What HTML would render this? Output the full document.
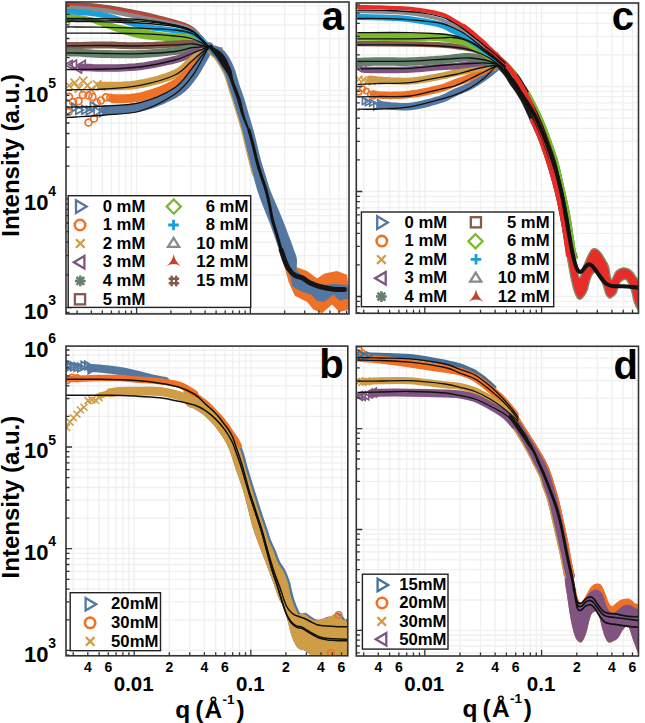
<!DOCTYPE html>
<html><head><meta charset="utf-8"><style>html,body{margin:0;padding:0;background:#fff;}svg{display:block}</style></head>
<body><svg width="645" height="723" viewBox="0 0 645 723">
<rect width="645" height="723" fill="#fff"/>
<path d="M77.1 2V313.9M91.3 2V313.9M102.3 2V313.9M111.4 2V313.9M119.0 2V313.9M125.6 2V313.9M131.4 2V313.9M136.6 2V313.9M170.9 2V313.9M190.9 2V313.9M205.1 2V313.9M216.1 2V313.9M225.2 2V313.9M232.8 2V313.9M239.4 2V313.9M245.2 2V313.9M250.4 2V313.9M284.7 2V313.9M304.7 2V313.9M318.9 2V313.9M329.9 2V313.9M339.0 2V313.9M346.6 2V313.9M66 312.5H349M66 307.5H349M66 274.8H349M66 255.7H349M66 242.1H349M66 231.6H349M66 223.0H349M66 215.7H349M66 209.4H349M66 203.9H349M66 198.9H349M66 166.2H349M66 147.1H349M66 133.5H349M66 123.0H349M66 114.4H349M66 107.1H349M66 100.8H349M66 95.3H349M66 90.3H349M66 57.6H349M66 38.5H349M66 24.9H349M66 14.4H349M66 5.8H349" stroke="#f0f0f0" stroke-width="1.3" fill="none"/>
<clipPath id="clipa"><rect x="66" y="2" width="283" height="311.9"/></clipPath>
<g clip-path="url(#clipa)">
<path d="M288.6 240.0 L296.7 267.3 L307.2 271.0 L317.1 278.5 L324.6 273.5 L337.0 271.0 L347.0 274.7 L349.0 290.0 L349.0 309.5 L339.5 312.0 L332.0 304.5 L322.1 313.2 L313.4 309.5 L307.2 302.0 L294.8 295.8 L288.6 282.0 L280.0 250.0 L276.0 238.0Z" fill="#ee7126"/>
<path d="M287.4 240.0 L296.0 270.0 L305.0 277.5 L320.0 285.0 L334.5 284.0 L344.4 284.7 L349.0 286.0 L349.0 298.3 L339.5 300.8 L333.3 294.6 L324.6 302.0 L317.1 300.8 L311.0 294.6 L302.3 292.1 L293.6 287.1 L289.9 274.7 L283.6 258.6 L278.0 240.0Z" fill="#5377a0"/>
<path d="M67.0 14.3 L67.9 14.3 L69.1 14.3 L70.6 14.2 L72.3 14.3 L74.1 14.3 L76.0 14.5 L78.0 14.8 L80.3 15.1 L82.6 15.5 L85.1 16.0 L87.6 16.5 L90.0 17.0 L92.4 17.6 L94.9 18.2 L97.4 18.9 L100.0 19.6 L102.5 20.3 L105.0 21.0 L107.4 21.7 L109.8 22.3 L112.2 23.0 L114.6 23.7 L117.2 24.4 L120.0 25.0 L123.0 25.6 L126.3 26.2 L129.7 26.8 L133.1 27.4 L136.6 28.0 L140.0 28.6 L143.4 29.2 L146.9 29.8 L150.3 30.4 L153.7 31.0 L157.0 31.6 L160.0 32.0 L162.8 32.3 L165.3 32.6 L167.6 32.7 L170.0 32.9 L172.4 33.1 L175.0 33.3 L177.8 33.5 L180.9 33.7 L183.9 33.9 L187.0 34.2 L190.1 34.7 L193.0 35.5 L196.0 36.8 L199.1 38.5 L202.1 40.4 L204.9 42.3 L207.3 43.9 L209.0 45.0 L209.0 48.0 L207.3 47.0 L204.9 45.6 L202.1 43.9 L199.1 42.3 L196.0 40.9 L193.0 40.0 L190.1 39.7 L187.0 39.8 L183.9 40.2 L180.9 40.7 L177.8 41.1 L175.0 41.3 L172.4 41.3 L170.0 41.2 L167.6 41.1 L165.3 40.9 L162.8 40.7 L160.0 40.5 L157.0 40.3 L153.7 40.1 L150.3 39.8 L146.9 39.5 L143.4 39.0 L140.0 38.5 L136.6 37.8 L133.1 36.9 L129.7 36.0 L126.3 35.0 L123.0 34.0 L120.0 33.0 L117.2 32.1 L114.6 31.2 L112.2 30.2 L109.8 29.3 L107.4 28.4 L105.0 27.5 L102.5 26.6 L100.0 25.6 L97.4 24.7 L94.9 23.7 L92.4 22.8 L90.0 22.0 L87.6 21.2 L85.1 20.4 L82.6 19.7 L80.3 19.0 L78.0 18.4 L76.0 18.0 L74.1 17.8 L72.3 17.7 L70.6 17.8 L69.1 17.9 L67.9 18.0 L67.0 18.0Z" fill="#7cb82e"/>
<path d="M69.0 14.0L73.5 18.5L69.0 23.0L64.5 18.5Z" fill="none" stroke="#7cb82e" stroke-width="1.8"/>
<path d="M67.0 3.5 L67.6 3.5 L68.1 3.5 L68.8 3.5 L69.7 3.5 L70.8 3.5 L72.1 3.5 L73.9 3.6 L76.0 3.8 L78.6 4.0 L81.7 4.2 L85.1 4.5 L88.9 4.8 L92.8 5.1 L96.9 5.5 L101.0 6.0 L105.0 6.5 L109.1 7.1 L113.3 7.8 L117.7 8.5 L122.1 9.3 L126.6 10.1 L131.1 11.0 L135.6 11.9 L140.0 12.8 L144.5 13.8 L149.1 14.8 L153.9 15.9 L158.6 17.1 L163.1 18.2 L167.4 19.4 L171.4 20.5 L175.0 21.5 L178.1 22.4 L180.7 23.2 L183.1 23.9 L185.2 24.7 L187.1 25.5 L189.0 26.4 L191.0 27.6 L193.0 29.0 L195.2 30.9 L197.5 33.2 L199.8 35.8 L202.1 38.5 L204.3 41.1 L206.2 43.5 L207.8 45.5 L209.0 47.0" stroke="#86594d" stroke-width="3.5" fill="none" stroke-linejoin="round" stroke-linecap="round" opacity="1"/>
<path d="M67.0 5.5 L67.6 5.5 L68.1 5.5 L68.8 5.5 L69.7 5.5 L70.8 5.5 L72.1 5.6 L73.9 5.7 L76.0 5.8 L78.6 6.0 L81.7 6.1 L85.1 6.3 L88.9 6.5 L92.8 6.8 L96.9 7.1 L101.0 7.5 L105.0 8.0 L109.1 8.6 L113.3 9.2 L117.7 9.9 L122.1 10.7 L126.6 11.5 L131.1 12.4 L135.6 13.3 L140.0 14.2 L144.5 15.1 L149.1 16.1 L153.9 17.2 L158.6 18.3 L163.1 19.4 L167.4 20.4 L171.4 21.5 L175.0 22.5 L178.1 23.4 L180.7 24.2 L183.1 25.0 L185.2 25.7 L187.1 26.5 L189.0 27.5 L191.0 28.6 L193.0 30.0 L195.2 31.8 L197.5 34.0 L199.8 36.4 L202.1 39.0 L204.3 41.5 L206.2 43.7 L207.8 45.6 L209.0 47.0" stroke="#c8402e" stroke-width="3.5" fill="none" stroke-linejoin="round" stroke-linecap="round" opacity="1"/>
<path d="M67.0 7.8 L67.6 7.8 L68.1 7.8 L68.8 7.8 L69.7 7.7 L70.8 7.7 L72.1 7.8 L73.9 7.9 L76.0 8.0 L78.6 8.2 L81.7 8.4 L85.1 8.6 L88.9 8.8 L92.8 9.2 L96.9 9.5 L101.0 10.0 L105.0 10.5 L109.1 11.1 L113.3 11.9 L117.7 12.7 L122.1 13.6 L126.6 14.5 L131.1 15.4 L135.6 16.3 L140.0 17.2 L144.5 18.1 L149.1 19.0 L153.9 19.9 L158.6 20.9 L163.1 21.8 L167.4 22.7 L171.4 23.6 L175.0 24.5 L178.1 25.3 L180.7 26.0 L183.1 26.6 L185.2 27.2 L187.1 27.9 L189.0 28.7 L191.0 29.7 L193.0 31.0 L195.2 32.7 L197.5 34.7 L199.8 37.0 L202.1 39.4 L204.3 41.8 L206.2 43.9 L207.8 45.7 L209.0 47.0" stroke="#8a8a8a" stroke-width="4.5" fill="none" stroke-linejoin="round" stroke-linecap="round" opacity="1"/>
<path d="M67.0 12.0 L67.6 12.0 L68.1 11.9 L68.8 11.8 L69.7 11.8 L70.8 11.7 L72.1 11.8 L73.9 11.8 L76.0 12.0 L78.6 12.2 L81.7 12.5 L85.1 12.8 L88.9 13.1 L92.8 13.5 L96.9 14.1 L101.0 14.7 L105.0 15.5 L109.1 16.5 L113.3 17.7 L117.7 19.1 L122.1 20.5 L126.6 22.0 L131.1 23.4 L135.6 24.6 L140.0 25.7 L144.5 26.6 L149.1 27.3 L153.9 28.0 L158.6 28.6 L163.1 29.1 L167.4 29.6 L171.4 30.0 L175.0 30.5 L178.1 30.9 L180.7 31.1 L183.1 31.2 L185.2 31.3 L187.1 31.5 L189.0 31.9 L191.0 32.4 L193.0 33.3 L195.2 34.6 L197.5 36.3 L199.8 38.2 L202.1 40.3 L204.3 42.4 L206.2 44.3 L207.8 45.9 L209.0 47.0" stroke="#18a0dc" stroke-width="5.5" fill="none" stroke-linejoin="round" stroke-linecap="round" opacity="1"/>
<path d="M67.0 45.5 L67.6 45.5 L68.1 45.5 L68.8 45.5 L69.7 45.5 L70.8 45.5 L72.1 45.5 L73.9 45.5 L76.0 45.5 L78.6 45.5 L81.7 45.4 L85.1 45.3 L88.9 45.2 L92.8 45.1 L96.9 45.1 L101.0 45.0 L105.0 45.0 L109.1 45.0 L113.3 45.1 L117.7 45.3 L122.1 45.4 L126.6 45.6 L131.1 45.7 L135.6 45.7 L140.0 45.7 L144.5 45.6 L149.1 45.4 L153.9 45.2 L158.6 44.9 L163.1 44.7 L167.4 44.4 L171.4 44.2 L175.0 44.0 L178.1 43.9 L180.7 43.7 L183.1 43.5 L185.2 43.4 L187.1 43.3 L189.0 43.3 L191.0 43.4 L193.0 43.5 L195.2 43.8 L197.5 44.2 L199.8 44.7 L202.1 45.2 L204.3 45.8 L206.2 46.3 L207.8 46.7 L209.0 47.0" stroke="#835a4b" stroke-width="7" fill="none" stroke-linejoin="round" stroke-linecap="round" opacity="1"/>
<path d="M67.0 52.5 L67.6 52.5 L68.1 52.5 L68.8 52.4 L69.7 52.4 L70.8 52.4 L72.1 52.4 L73.9 52.4 L76.0 52.5 L78.6 52.6 L81.7 52.8 L85.1 53.0 L88.9 53.2 L92.8 53.5 L96.9 53.7 L101.0 53.9 L105.0 54.0 L109.1 54.1 L113.3 54.2 L117.7 54.2 L122.1 54.3 L126.6 54.3 L131.1 54.2 L135.6 54.2 L140.0 54.0 L144.5 53.8 L149.1 53.5 L153.9 53.1 L158.6 52.7 L163.1 52.3 L167.4 51.9 L171.4 51.4 L175.0 51.0 L178.1 50.6 L180.7 50.1 L183.1 49.6 L185.2 49.1 L187.1 48.6 L189.0 48.2 L191.0 47.8 L193.0 47.5 L195.2 47.3 L197.5 47.2 L199.8 47.1 L202.1 47.0 L204.3 47.0 L206.2 47.0 L207.8 47.0 L209.0 47.0" stroke="#65806a" stroke-width="8" fill="none" stroke-linejoin="round" stroke-linecap="round" opacity="1"/>
<path d="M81.7 67.2 L85.1 67.4 L88.9 67.6 L92.8 67.8 L96.9 67.9 L101.0 68.0 L105.0 68.0 L109.1 68.0 L113.3 67.9 L117.7 67.9 L122.1 67.7 L126.6 67.6 L131.1 67.3 L135.6 67.0 L140.0 66.5 L144.5 65.9 L149.1 65.1 L153.9 64.3 L158.6 63.4 L163.1 62.4 L167.4 61.4 L171.4 60.5 L175.0 59.6 L178.1 58.8 L180.7 57.9 L183.1 57.1 L185.2 56.2 L187.1 55.4 L189.0 54.6 L191.0 53.8 L193.0 53.0 L195.2 52.2 L197.5 51.3 L199.8 50.4 L202.1 49.6 L204.3 48.8 L206.2 48.1 L207.8 47.5 L209.0 47.0" stroke="#7f5480" stroke-width="7.5" fill="none" stroke-linejoin="round" stroke-linecap="round" opacity="1"/>
<path d="M72.2 60.4L64.8 64.6L72.2 68.9Z" fill="none" stroke="#7f5480" stroke-width="1.7" stroke-linejoin="miter"/>
<path d="M76.4 60.2L69.0 64.5L76.4 68.7Z" fill="none" stroke="#7f5480" stroke-width="1.7" stroke-linejoin="miter"/>
<path d="M81.5 64.4L74.1 68.6L81.5 72.9Z" fill="none" stroke="#7f5480" stroke-width="1.7" stroke-linejoin="miter"/>
<path d="M85.3 60.5L77.8 64.8L85.3 69.0Z" fill="none" stroke="#7f5480" stroke-width="1.7" stroke-linejoin="miter"/>
<path d="M101.0 85.9 L105.0 86.0 L109.1 86.0 L113.3 86.0 L117.7 85.9 L122.1 85.8 L126.6 85.5 L131.1 85.2 L135.6 84.7 L140.0 84.0 L144.5 83.2 L149.1 82.2 L153.9 81.0 L158.6 79.8 L163.1 78.4 L167.4 77.0 L171.4 75.5 L175.0 74.0 L178.1 72.4 L180.7 70.7 L183.1 68.9 L185.2 67.1 L187.1 65.2 L189.0 63.4 L191.0 61.5 L193.0 59.8 L195.2 58.0 L197.5 56.2 L199.8 54.3 L202.1 52.5 L204.3 50.8 L206.2 49.3 L207.8 48.0 L209.0 47.0" stroke="#cf9d46" stroke-width="8.5" fill="none" stroke-linejoin="round" stroke-linecap="round" opacity="1"/>
<path d="M64.8 81.3L73.2 89.8M73.2 81.3L64.8 89.8" stroke="#cf9d46" stroke-width="1.7"/>
<path d="M70.5 78.7L79.0 87.2M79.0 78.7L70.5 87.2" stroke="#cf9d46" stroke-width="1.7"/>
<path d="M74.6 84.1L83.1 92.6M83.1 84.1L74.6 92.6" stroke="#cf9d46" stroke-width="1.7"/>
<path d="M78.9 76.6L87.4 85.1M87.4 76.6L78.9 85.1" stroke="#cf9d46" stroke-width="1.7"/>
<path d="M83.3 81.1L91.8 89.6M91.8 81.1L83.3 89.6" stroke="#cf9d46" stroke-width="1.7"/>
<path d="M86.9 85.3L95.4 93.8M95.4 85.3L86.9 93.8" stroke="#cf9d46" stroke-width="1.7"/>
<path d="M92.9 80.3L101.4 88.8M101.4 80.3L92.9 88.8" stroke="#cf9d46" stroke-width="1.7"/>
<path d="M96.8 82.1L105.3 90.6M105.3 82.1L96.8 90.6" stroke="#cf9d46" stroke-width="1.7"/>
<path d="M113.3 98.8 L117.7 98.8 L122.1 98.8 L126.6 98.6 L131.1 98.3 L135.6 97.8 L140.0 97.0 L144.5 95.9 L149.1 94.6 L153.9 93.1 L158.6 91.5 L163.1 89.7 L167.4 87.8 L171.4 85.9 L175.0 84.0 L178.1 82.1 L180.7 80.0 L183.1 77.9 L185.2 75.8 L187.1 73.6 L189.0 71.3 L191.0 69.0 L193.0 66.7 L195.2 64.2 L197.5 61.5 L199.8 58.6 L202.1 55.8 L204.3 53.1 L206.2 50.6 L207.8 48.5 L209.0 47.0" stroke="#ee7126" stroke-width="9" fill="none" stroke-linejoin="round" stroke-linecap="round" opacity="1"/>
<circle cx="69.0" cy="96.7" r="3.4" fill="none" stroke="#ee7126" stroke-width="1.7"/>
<circle cx="73.0" cy="102.1" r="3.4" fill="none" stroke="#ee7126" stroke-width="1.7"/>
<circle cx="78.6" cy="101.1" r="3.4" fill="none" stroke="#ee7126" stroke-width="1.7"/>
<circle cx="82.9" cy="94.9" r="3.4" fill="none" stroke="#ee7126" stroke-width="1.7"/>
<circle cx="88.5" cy="95.5" r="3.4" fill="none" stroke="#ee7126" stroke-width="1.7"/>
<circle cx="92.4" cy="96.9" r="3.4" fill="none" stroke="#ee7126" stroke-width="1.7"/>
<circle cx="96.7" cy="102.6" r="3.4" fill="none" stroke="#ee7126" stroke-width="1.7"/>
<circle cx="100.9" cy="100.4" r="3.4" fill="none" stroke="#ee7126" stroke-width="1.7"/>
<circle cx="106.0" cy="97.2" r="3.4" fill="none" stroke="#ee7126" stroke-width="1.7"/>
<circle cx="110.3" cy="97.8" r="3.4" fill="none" stroke="#ee7126" stroke-width="1.7"/>
<path d="M105.0 110.0 L109.1 109.7 L113.3 109.6 L117.7 109.4 L122.1 109.2 L126.6 109.0 L131.1 108.5 L135.6 107.9 L140.0 107.0 L144.5 105.8 L149.1 104.4 L153.9 102.7 L158.6 100.9 L163.1 99.0 L167.4 97.0 L171.4 95.0 L175.0 93.0 L178.1 91.0 L180.7 89.0 L183.1 87.0 L185.2 84.9 L187.1 82.7 L189.0 80.3 L191.0 77.8 L193.0 75.0 L195.2 71.8 L197.5 68.0 L199.8 64.0 L202.1 59.9 L204.3 55.9 L206.2 52.3 L207.8 49.2 L209.0 47.0" stroke="#5377a0" stroke-width="9.5" fill="none" stroke-linejoin="round" stroke-linecap="round" opacity="1"/>
<path d="M65.8 106.5L73.2 110.8L65.8 115.0Z" fill="none" stroke="#5377a0" stroke-width="1.7" stroke-linejoin="miter"/>
<path d="M71.8 103.1L79.2 107.4L71.8 111.6Z" fill="none" stroke="#5377a0" stroke-width="1.7" stroke-linejoin="miter"/>
<path d="M75.9 105.7L83.4 109.9L75.9 114.2Z" fill="none" stroke="#5377a0" stroke-width="1.7" stroke-linejoin="miter"/>
<path d="M81.9 105.6L89.3 109.9L81.9 114.1Z" fill="none" stroke="#5377a0" stroke-width="1.7" stroke-linejoin="miter"/>
<path d="M86.5 106.2L94.0 110.4L86.5 114.7Z" fill="none" stroke="#5377a0" stroke-width="1.7" stroke-linejoin="miter"/>
<path d="M90.4 101.9L97.8 106.1L90.4 110.4Z" fill="none" stroke="#5377a0" stroke-width="1.7" stroke-linejoin="miter"/>
<path d="M94.1 107.3L101.5 111.5L94.1 115.8Z" fill="none" stroke="#5377a0" stroke-width="1.7" stroke-linejoin="miter"/>
<path d="M99.6 108.0L107.0 112.3L99.6 116.5Z" fill="none" stroke="#5377a0" stroke-width="1.7" stroke-linejoin="miter"/>
<ellipse cx="220.5" cy="48.4" rx="2.8" ry="1.7" fill="#ee7126" opacity="0.8"/>
<circle cx="88.5" cy="122.5" r="3.4" fill="none" stroke="#ee7126" stroke-width="1.7"/>
<circle cx="94.0" cy="118.5" r="3.4" fill="none" stroke="#ee7126" stroke-width="1.7"/>
<circle cx="68.5" cy="112.0" r="3.4" fill="none" stroke="#ee7126" stroke-width="1.7"/>
<path d="M207.0 50.0C207.5 51.4 210.0 53.7 211.2 54.9C212.4 56.1 213.3 56.3 214.3 57.4C215.3 58.5 216.4 60.2 217.4 61.7C218.4 63.2 219.5 65.0 220.5 66.7C221.5 68.5 222.7 70.2 223.6 72.2C224.5 74.2 225.2 75.8 226.1 78.4C227.0 81.0 227.9 84.4 229.0 88.0C230.1 91.6 231.5 95.5 232.9 100.0C234.3 104.5 236.0 110.0 237.5 115.0C239.0 120.0 240.6 125.0 241.9 130.0C243.2 135.0 244.3 140.0 245.5 145.0C246.7 150.0 247.9 155.0 249.2 160.0C250.4 165.0 251.7 170.0 253.0 175.0C254.3 180.0 255.6 185.0 257.2 190.0C258.8 195.0 260.6 200.0 262.5 205.0C264.4 210.0 266.6 215.0 268.5 220.0C270.4 225.0 272.2 230.0 274.0 235.0C275.8 240.0 277.5 246.1 279.1 250.0C280.7 253.9 281.8 254.5 283.6 258.6C285.4 262.7 288.2 269.9 289.9 274.7C291.6 279.4 292.4 289.2 293.6 287.1C294.8 285.0 296.9 268.2 297.0 262.0C297.1 255.8 295.4 254.5 294.0 250.0C292.6 245.5 290.4 240.0 288.5 235.0C286.6 230.0 284.8 225.0 282.8 220.0C280.8 215.0 278.6 210.0 276.5 205.0C274.4 200.0 272.0 195.0 270.2 190.0C268.4 185.0 267.1 180.0 265.5 175.0C263.9 170.0 262.3 165.0 260.9 160.0C259.5 155.0 258.4 150.0 257.2 145.0C256.0 140.0 254.9 135.0 253.5 130.0C252.1 125.0 250.5 120.0 249.0 115.0C247.5 110.0 245.9 103.8 244.7 100.0C243.5 96.2 242.9 94.5 242.0 92.0C241.1 89.5 240.3 87.5 239.5 85.0C238.7 82.5 237.9 79.5 237.2 77.2C236.5 74.9 236.1 73.1 235.4 71.0C234.7 68.9 233.8 66.9 232.9 64.8C232.0 62.7 230.9 60.6 229.8 58.6C228.7 56.6 227.3 54.5 226.1 53.0C224.9 51.5 223.8 50.4 222.4 49.3C221.0 48.2 219.3 46.8 217.4 46.2C215.5 45.6 212.8 45.6 211.2 45.6C209.6 45.6 208.7 45.8 208.0 46.5C207.3 47.2 206.5 48.6 207.0 50.0Z" fill="#5377a0"/>
<path d="M206.7 50.0C207.4 50.8 209.7 53.7 210.9 54.9C212.1 56.1 213.0 56.3 214.0 57.4C215.0 58.5 216.1 60.2 217.1 61.7C218.1 63.2 219.2 65.0 220.2 66.7C221.2 68.5 222.4 70.2 223.3 72.2C224.2 74.2 224.9 75.8 225.8 78.4C226.7 81.0 227.6 84.4 228.7 88.0C229.8 91.6 231.2 95.5 232.6 100.0C234.0 104.5 235.7 110.0 237.2 115.0C238.7 120.0 240.3 125.0 241.6 130.0C242.9 135.0 244.0 140.0 245.2 145.0C246.4 150.0 247.6 155.0 248.9 160.0C250.1 165.0 252.1 172.5 252.7 175.0" stroke="#cf9d46" stroke-width="1.2" fill="none" stroke-linejoin="round" stroke-linecap="round" opacity="1"/>
<path d="M67.0 117.5C68.5 117.4 69.7 117.4 76.0 117.0C82.3 116.6 94.3 116.0 105.0 115.0C115.7 114.0 128.3 114.5 140.0 111.0C151.7 107.5 166.2 100.0 175.0 94.0C183.8 88.0 187.3 82.8 193.0 75.0C198.7 67.2 205.7 51.3 209.0 47.0C212.3 42.7 212.3 48.7 213.0 49.0" stroke="#111" stroke-width="1.3" fill="none" stroke-linejoin="round" stroke-linecap="round"/>
<path d="M67.0 107.0C68.5 107.0 69.7 107.2 76.0 107.0C82.3 106.8 94.3 106.7 105.0 106.0C115.7 105.3 128.3 105.8 140.0 102.7C151.7 99.6 166.2 93.5 175.0 87.5C183.8 81.5 187.3 73.8 193.0 67.0C198.7 60.2 205.7 50.0 209.0 47.0C212.3 44.0 212.3 48.7 213.0 49.0" stroke="#111" stroke-width="1.3" fill="none" stroke-linejoin="round" stroke-linecap="round"/>
<path d="M67.0 90.0C68.5 90.0 69.7 89.9 76.0 89.7C82.3 89.5 94.3 89.7 105.0 89.0C115.7 88.3 128.3 87.6 140.0 85.3C151.7 83.0 166.2 79.2 175.0 75.0C183.8 70.8 187.3 64.7 193.0 60.0C198.7 55.3 205.7 48.8 209.0 47.0C212.3 45.2 212.3 48.7 213.0 49.0" stroke="#111" stroke-width="1.3" fill="none" stroke-linejoin="round" stroke-linecap="round"/>
<path d="M67.0 69.5C68.5 69.5 69.7 69.6 76.0 69.5C82.3 69.4 94.3 69.4 105.0 69.0C115.7 68.6 128.3 68.5 140.0 67.0C151.7 65.5 166.2 62.3 175.0 60.0C183.8 57.7 187.3 55.2 193.0 53.0C198.7 50.8 205.7 47.7 209.0 47.0C212.3 46.3 212.3 48.7 213.0 49.0" stroke="#111" stroke-width="1.3" fill="none" stroke-linejoin="round" stroke-linecap="round"/>
<path d="M67.0 53.0C68.5 53.0 69.7 52.9 76.0 53.0C82.3 53.1 94.3 53.4 105.0 53.5C115.7 53.6 128.3 54.0 140.0 53.7C151.7 53.4 166.2 52.5 175.0 51.5C183.8 50.5 187.3 48.2 193.0 47.5C198.7 46.8 205.7 46.8 209.0 47.0C212.3 47.2 212.3 48.7 213.0 49.0" stroke="#111" stroke-width="1.3" fill="none" stroke-linejoin="round" stroke-linecap="round"/>
<path d="M67.0 45.8C68.5 45.8 69.7 45.8 76.0 45.8C82.3 45.8 94.3 45.5 105.0 45.5C115.7 45.5 128.3 46.1 140.0 46.0C151.7 45.9 166.2 45.2 175.0 44.9C183.8 44.6 187.3 43.6 193.0 44.0C198.7 44.4 205.7 46.2 209.0 47.0C212.3 47.8 212.3 48.7 213.0 49.0" stroke="#111" stroke-width="1.3" fill="none" stroke-linejoin="round" stroke-linecap="round"/>
<path d="M67.0 33.2C68.5 33.2 69.7 33.2 76.0 33.2C82.3 33.2 94.3 33.1 105.0 33.2C115.7 33.3 128.3 33.2 140.0 33.7C151.7 34.2 166.2 35.1 175.0 36.0C183.8 36.9 187.3 37.2 193.0 39.0C198.7 40.8 205.7 45.3 209.0 47.0C212.3 48.7 212.3 48.7 213.0 49.0" stroke="#111" stroke-width="1.3" fill="none" stroke-linejoin="round" stroke-linecap="round"/>
<path d="M67.0 27.0C68.5 27.0 69.7 26.9 76.0 27.0C82.3 27.1 94.3 27.1 105.0 27.3C115.7 27.5 128.3 27.8 140.0 28.2C151.7 28.6 166.2 29.0 175.0 30.0C183.8 31.0 187.3 31.2 193.0 34.0C198.7 36.8 205.7 44.5 209.0 47.0C212.3 49.5 212.3 48.7 213.0 49.0" stroke="#111" stroke-width="1.3" fill="none" stroke-linejoin="round" stroke-linecap="round"/>
<path d="M67.0 21.5C68.5 21.5 69.7 21.4 76.0 21.5C82.3 21.6 94.3 21.6 105.0 21.8C115.7 22.1 128.3 22.2 140.0 23.0C151.7 23.8 166.2 25.0 175.0 26.5C183.8 28.0 187.3 28.6 193.0 32.0C198.7 35.4 205.7 44.2 209.0 47.0C212.3 49.8 212.3 48.7 213.0 49.0" stroke="#111" stroke-width="1.3" fill="none" stroke-linejoin="round" stroke-linecap="round"/>
<path d="M67.0 20.0C68.5 20.0 69.7 20.0 76.0 20.0C82.3 20.0 94.3 20.0 105.0 20.2C115.7 20.4 128.3 20.3 140.0 21.2C151.7 22.1 166.2 23.8 175.0 25.5C183.8 27.2 187.3 27.9 193.0 31.5C198.7 35.1 205.7 44.1 209.0 47.0C212.3 49.9 212.3 48.7 213.0 49.0" stroke="#111" stroke-width="1.3" fill="none" stroke-linejoin="round" stroke-linecap="round"/>
<path d="M67.0 18.5C68.5 18.5 69.7 18.5 76.0 18.5C82.3 18.5 94.3 18.5 105.0 18.7C115.7 18.9 128.3 18.4 140.0 19.5C151.7 20.6 166.2 23.1 175.0 25.0C183.8 26.9 187.3 27.3 193.0 31.0C198.7 34.7 205.7 44.0 209.0 47.0C212.3 50.0 212.3 48.7 213.0 49.0" stroke="#111" stroke-width="1.3" fill="none" stroke-linejoin="round" stroke-linecap="round"/>
<path d="M209.0 47.5C209.0 48.2 211.0 50.2 212.0 51.5C213.0 52.8 213.9 53.8 214.8 55.0C215.7 56.2 216.3 56.9 217.4 58.6C218.5 60.3 220.2 62.9 221.5 65.0C222.8 67.1 224.3 69.2 225.5 71.0C226.7 72.8 227.8 74.5 228.5 76.0C229.2 77.5 229.2 77.7 230.0 80.0C230.8 82.3 232.3 86.7 233.5 90.0C234.7 93.3 235.9 95.8 237.2 100.0C238.5 104.2 239.7 110.0 241.5 115.0C243.3 120.0 246.5 127.5 247.8 130.0C249.2 132.5 250.2 132.5 249.6 130.0C249.0 127.5 245.9 120.0 244.5 115.0C243.1 110.0 242.1 104.2 240.9 100.0C239.7 95.8 238.5 93.3 237.3 90.0C236.1 86.7 234.4 83.2 233.5 80.0C232.6 76.8 232.4 73.5 231.7 71.0C230.9 68.5 229.9 66.9 229.0 64.8C228.1 62.7 227.2 60.5 226.1 58.6C225.0 56.7 223.8 55.0 222.4 53.5C221.0 52.0 219.1 50.6 217.4 49.5C215.7 48.4 213.4 47.3 212.0 47.0C210.6 46.7 209.0 46.8 209.0 47.5Z" fill="#151515"/>
<path d="M249.0 130.0C249.7 132.5 251.7 140.0 253.0 145.0C254.3 150.0 255.3 155.0 256.6 160.0C257.9 165.0 259.4 170.0 261.0 175.0C262.6 180.0 264.6 185.0 266.0 190.0C267.4 195.0 268.4 200.0 269.5 205.0C270.6 210.0 271.2 215.0 272.5 220.0C273.8 225.0 275.6 230.0 277.0 235.0C278.4 240.0 279.9 245.8 281.2 250.0C282.4 254.2 283.4 257.0 284.5 260.0C285.6 263.0 287.4 266.7 288.0 268.0" stroke="#111" stroke-width="3" fill="none" stroke-linejoin="round" stroke-linecap="round"/>
<path d="M281.2 250.0C281.8 251.7 283.4 257.0 284.5 260.0C285.6 263.0 286.3 265.4 288.0 268.0C289.7 270.6 292.4 273.8 294.8 275.4C297.2 277.0 299.8 276.6 302.3 277.8C304.8 279.0 306.8 281.4 309.7 282.8C312.6 284.2 315.9 285.5 319.6 286.5C323.3 287.5 327.9 288.5 332.0 289.0C336.1 289.5 342.3 289.5 344.4 289.6" stroke="#151515" stroke-width="5" fill="none" stroke-linejoin="round" stroke-linecap="round"/>
</g>
<path d="M77.1 313.9v-3.5M91.3 313.9v-3.5M102.3 313.9v-3.5M111.4 313.9v-3.5M119.0 313.9v-3.5M125.6 313.9v-3.5M131.4 313.9v-3.5M136.6 313.9v-6M170.9 313.9v-3.5M190.9 313.9v-3.5M205.1 313.9v-3.5M216.1 313.9v-3.5M225.2 313.9v-3.5M232.8 313.9v-3.5M239.4 313.9v-3.5M245.2 313.9v-3.5M250.4 313.9v-6M284.7 313.9v-3.5M304.7 313.9v-3.5M318.9 313.9v-3.5M329.9 313.9v-3.5M339.0 313.9v-3.5M346.6 313.9v-3.5M66 312.5h3.5M66 307.5h6M66 274.8h3.5M66 255.7h3.5M66 242.1h3.5M66 231.6h3.5M66 223.0h3.5M66 215.7h3.5M66 209.4h3.5M66 203.9h3.5M66 198.9h6M66 166.2h3.5M66 147.1h3.5M66 133.5h3.5M66 123.0h3.5M66 114.4h3.5M66 107.1h3.5M66 100.8h3.5M66 95.3h3.5M66 90.3h6M66 57.6h3.5M66 38.5h3.5M66 24.9h3.5M66 14.4h3.5M66 5.8h3.5" stroke="#333" stroke-width="1.3" fill="none"/>
<rect x="66" y="2" width="283.0" height="311.9" stroke="#333" stroke-width="1.6" fill="none"/>
<path d="M73.2 346.1V655.8M87.8 346.1V655.8M99.1 346.1V655.8M108.3 346.1V655.8M116.1 346.1V655.8M122.9 346.1V655.8M128.9 346.1V655.8M134.2 346.1V655.8M169.3 346.1V655.8M189.8 346.1V655.8M204.4 346.1V655.8M215.7 346.1V655.8M224.9 346.1V655.8M232.7 346.1V655.8M239.5 346.1V655.8M245.5 346.1V655.8M250.8 346.1V655.8M285.9 346.1V655.8M306.4 346.1V655.8M321.0 346.1V655.8M332.3 346.1V655.8M341.5 346.1V655.8M66 655.1H347.8M66 650.4H347.8M66 619.8H347.8M66 601.9H347.8M66 589.2H347.8M66 579.3H347.8M66 571.3H347.8M66 564.5H347.8M66 558.6H347.8M66 553.4H347.8M66 548.7H347.8M66 518.1H347.8M66 500.2H347.8M66 487.5H347.8M66 477.6H347.8M66 469.6H347.8M66 462.8H347.8M66 456.9H347.8M66 451.7H347.8M66 447.0H347.8M66 416.4H347.8M66 398.5H347.8M66 385.8H347.8M66 375.9H347.8M66 367.9H347.8M66 361.1H347.8M66 355.2H347.8M66 350.0H347.8" stroke="#f0f0f0" stroke-width="1.3" fill="none"/>
<clipPath id="clipb"><rect x="66" y="346.1" width="281.8" height="309.69999999999993"/></clipPath>
<g clip-path="url(#clipb)">
<path d="M90.0 368.0C91.5 368.1 94.0 368.0 99.0 368.5C104.0 369.0 113.8 370.0 120.0 371.0C126.2 372.0 131.4 373.3 136.4 374.5C141.4 375.7 145.2 376.9 150.0 378.0C154.8 379.1 162.5 380.5 165.0 381.0" stroke="#5377a0" stroke-width="8" fill="none" stroke-linejoin="round" stroke-linecap="round" opacity="1"/>
<path d="M63.8 361.2L71.2 365.5L63.8 369.7Z" fill="none" stroke="#5377a0" stroke-width="1.8" stroke-linejoin="miter"/>
<path d="M67.3 361.9L74.8 366.2L67.3 370.4Z" fill="none" stroke="#5377a0" stroke-width="1.8" stroke-linejoin="miter"/>
<path d="M70.8 362.2L78.2 366.5L70.8 370.7Z" fill="none" stroke="#5377a0" stroke-width="1.8" stroke-linejoin="miter"/>
<path d="M74.3 362.7L81.8 366.9L74.3 371.2Z" fill="none" stroke="#5377a0" stroke-width="1.8" stroke-linejoin="miter"/>
<path d="M77.8 363.3L85.2 367.5L77.8 371.8Z" fill="none" stroke="#5377a0" stroke-width="1.8" stroke-linejoin="miter"/>
<path d="M81.3 361.5L88.8 365.8L81.3 370.0Z" fill="none" stroke="#5377a0" stroke-width="1.8" stroke-linejoin="miter"/>
<path d="M84.8 361.3L92.2 365.6L84.8 369.8Z" fill="none" stroke="#5377a0" stroke-width="1.8" stroke-linejoin="miter"/>
<path d="M88.3 365.1L95.8 369.3L88.3 373.6Z" fill="none" stroke="#5377a0" stroke-width="1.8" stroke-linejoin="miter"/>
<path d="M186.0 387.0C187.5 385.1 191.9 390.6 195.0 392.7C198.1 394.8 201.5 396.9 204.7 399.5C207.9 402.1 211.2 405.0 214.4 408.2C217.6 411.4 221.1 415.3 224.0 418.9C226.9 422.4 229.6 426.0 231.8 429.5C234.0 433.0 235.2 436.6 237.0 440.0C238.8 443.4 240.9 445.0 242.8 450.0C244.7 455.0 246.5 463.3 248.5 470.0C250.5 476.7 252.6 483.3 254.7 490.0C256.8 496.7 258.8 503.3 261.0 510.0C263.2 516.7 266.1 525.0 267.8 530.0C269.5 535.0 269.7 536.7 271.0 540.0C272.3 543.3 274.0 546.4 275.5 550.0C277.0 553.6 278.4 558.3 280.0 561.6C281.6 564.9 283.7 566.7 285.3 570.0C286.9 573.3 288.8 578.2 289.9 581.5C291.0 584.8 291.1 587.1 291.8 590.0C292.5 592.9 293.2 595.8 294.1 598.7C295.0 601.6 296.3 605.0 297.4 607.4C298.5 609.8 299.3 612.4 300.6 613.3C301.9 614.2 303.4 612.3 305.0 612.8C306.6 613.2 308.6 614.9 310.4 616.0C312.2 617.1 314.0 618.8 315.8 619.3C317.6 619.8 319.4 619.7 321.2 619.3C323.0 618.9 324.9 617.6 326.7 617.1C328.5 616.6 330.3 616.7 332.1 616.0C333.9 615.3 335.9 613.0 337.5 612.8C339.1 612.6 340.6 613.9 341.9 615.0C343.2 616.1 343.9 618.2 345.1 619.3C346.3 620.4 348.4 615.2 349.0 621.5C349.6 627.8 355.2 651.1 349.0 657.0C342.8 662.9 318.4 657.3 312.0 657.0C305.6 656.7 311.6 656.1 310.4 655.1C309.2 654.1 307.0 651.9 305.0 650.8C303.0 649.7 300.2 650.0 298.4 648.6C296.6 647.2 295.4 644.6 294.1 642.1C292.9 639.6 292.0 637.0 290.9 633.4C289.8 629.8 288.7 624.7 287.6 620.4C286.5 616.1 285.7 610.8 284.3 607.4C282.9 604.0 281.2 603.7 279.5 600.0C277.8 596.3 275.8 590.0 274.0 585.0C272.2 580.0 270.7 575.8 268.5 570.0C266.3 564.2 263.3 556.7 260.8 550.0C258.3 543.3 255.6 536.7 253.5 530.0C251.4 523.3 250.0 516.7 248.2 510.0C246.4 503.3 244.9 496.7 242.9 490.0C240.9 483.3 238.2 476.7 236.0 470.0C233.8 463.3 231.4 455.1 229.4 450.0C227.4 444.9 226.5 443.2 224.0 439.2C221.5 435.1 217.6 429.6 214.4 425.7C211.2 421.8 207.9 418.8 204.7 416.0C201.5 413.2 198.1 411.2 195.0 409.2C191.9 407.2 187.5 407.7 186.0 404.0C184.5 400.3 184.5 388.9 186.0 387.0Z" fill="#5377a0"/>
<path d="M183.8 387.8C184.9 386.1 189.7 391.4 192.8 393.5C195.9 395.6 199.3 397.7 202.5 400.3C205.7 402.9 209.0 405.8 212.2 409.0C215.4 412.2 218.9 416.1 221.8 419.7C224.7 423.2 227.4 426.8 229.6 430.3C231.8 433.8 233.0 437.4 234.8 440.8C236.6 444.2 238.7 445.8 240.6 450.8C242.5 455.8 244.3 464.1 246.3 470.8C248.3 477.5 250.4 484.1 252.5 490.8C254.6 497.5 256.6 504.1 258.8 510.8C261.0 517.5 263.9 525.8 265.6 530.8C267.3 535.8 267.5 537.5 268.8 540.8C270.1 544.1 271.8 547.2 273.3 550.8C274.8 554.4 276.2 559.1 277.8 562.4C279.4 565.7 281.5 567.5 283.1 570.8C284.8 574.1 286.6 579.0 287.7 582.3C288.8 585.6 288.9 587.9 289.6 590.8C290.3 593.7 291.0 596.6 291.9 599.5C292.8 602.4 294.1 605.8 295.2 608.2C296.3 610.6 297.1 613.2 298.4 614.1C299.7 615.0 301.2 613.1 302.8 613.6C304.4 614.0 306.4 615.7 308.2 616.8C310.0 617.9 311.8 619.5 313.6 620.1C315.4 620.6 317.2 620.5 319.0 620.1C320.8 619.7 322.7 618.4 324.5 617.9C326.3 617.4 328.1 617.5 329.9 616.8C331.7 616.1 333.7 613.8 335.3 613.6C336.9 613.4 338.4 614.7 339.7 615.8C341.0 616.9 341.7 619.0 342.9 620.1C344.1 621.2 345.8 616.1 346.8 622.3C347.8 628.4 354.8 651.2 349.0 657.0C343.2 662.8 318.4 657.3 312.0 657.0C305.6 656.7 311.6 656.1 310.4 655.1C309.2 654.1 307.0 651.9 305.0 650.8C303.0 649.7 300.2 650.0 298.4 648.6C296.6 647.2 295.4 644.6 294.1 642.1C292.9 639.6 292.0 637.0 290.9 633.4C289.8 629.8 288.7 624.7 287.6 620.4C286.5 616.1 285.7 610.8 284.3 607.4C282.9 604.0 281.2 603.7 279.5 600.0C277.8 596.3 275.8 590.0 274.0 585.0C272.2 580.0 270.7 575.8 268.5 570.0C266.3 564.2 263.3 556.7 260.8 550.0C258.3 543.3 255.6 536.7 253.5 530.0C251.4 523.3 250.0 516.7 248.2 510.0C246.4 503.3 244.9 496.7 242.9 490.0C240.9 483.3 238.2 476.7 236.0 470.0C233.8 463.3 231.4 455.1 229.4 450.0C227.4 444.9 226.5 443.2 224.0 439.2C221.5 435.1 217.6 429.6 214.4 425.7C211.2 421.8 207.9 418.8 204.7 416.0C201.5 413.2 198.1 411.2 195.0 409.2C191.9 407.2 187.9 407.6 186.0 404.0C184.1 400.4 182.7 389.6 183.8 387.8Z" fill="#cf9d46"/>
<path d="M66.0 379.0C67.0 379.0 66.5 379.2 72.0 379.0C77.5 378.8 91.0 378.1 99.0 378.0C107.0 377.9 113.8 377.8 120.0 378.1C126.2 378.4 129.7 379.1 136.4 379.6C143.1 380.1 152.7 380.4 160.0 381.3C167.3 382.2 174.2 383.0 180.0 385.0C185.8 387.0 192.5 392.1 195.0 393.5" stroke="#ee7126" stroke-width="6.5" fill="none" stroke-linejoin="round" stroke-linecap="round" opacity="1"/>
<path d="M179.6 385.6C182.1 387.0 190.4 391.5 194.6 394.1C198.8 396.7 201.4 398.5 204.6 401.1C207.8 403.7 210.4 406.4 213.6 409.6C216.8 412.9 220.8 417.1 223.6 420.6C226.4 424.1 228.4 427.5 230.6 430.6C232.8 433.7 234.9 436.4 236.5 439.0C238.1 441.6 239.4 444.8 240.0 446.0" stroke="#ee7126" stroke-width="4" fill="none" stroke-linejoin="round" stroke-linecap="round" opacity="1"/>
<circle cx="67.0" cy="380.2" r="3.4" fill="none" stroke="#ee7126" stroke-width="1.7"/>
<circle cx="72.0" cy="377.8" r="3.4" fill="none" stroke="#ee7126" stroke-width="1.7"/>
<circle cx="77.0" cy="378.2" r="3.4" fill="none" stroke="#ee7126" stroke-width="1.7"/>
<path d="M100.0 395.5 L110.0 392.8" stroke="#cf9d46" stroke-width="6" fill="none" stroke-linejoin="round" stroke-linecap="round" opacity="1"/>
<path d="M110.0 392.8C111.7 392.6 115.6 391.8 120.0 391.5C124.4 391.2 129.7 391.3 136.4 391.3C143.1 391.3 152.7 390.7 160.0 391.5C167.3 392.3 174.2 394.2 180.0 396.0C185.8 397.8 190.8 400.0 195.0 402.0C199.2 404.0 201.8 405.7 205.0 408.0C208.2 410.3 212.5 414.7 214.0 416.0" stroke="#cf9d46" stroke-width="9" fill="none" stroke-linejoin="round" stroke-linecap="round" opacity="1"/>
<path d="M63.0 424.0L70.0 431.0M70.0 424.0L63.0 431.0" stroke="#cf9d46" stroke-width="1.6"/>
<path d="M66.5 418.5L73.5 425.5M73.5 418.5L66.5 425.5" stroke="#cf9d46" stroke-width="1.6"/>
<path d="M70.0 414.2L77.0 421.2M77.0 414.2L70.0 421.2" stroke="#cf9d46" stroke-width="1.6"/>
<path d="M73.5 410.8L80.5 417.8M80.5 410.8L73.5 417.8" stroke="#cf9d46" stroke-width="1.6"/>
<path d="M77.0 406.5L84.0 413.5M84.0 406.5L77.0 413.5" stroke="#cf9d46" stroke-width="1.6"/>
<path d="M80.5 403.7L87.5 410.7M87.5 403.7L80.5 410.7" stroke="#cf9d46" stroke-width="1.6"/>
<path d="M84.6 397.1L91.6 404.1M91.6 397.1L84.6 404.1" stroke="#cf9d46" stroke-width="1.6"/>
<path d="M88.5 396.4L95.5 403.4M95.5 396.4L88.5 403.4" stroke="#cf9d46" stroke-width="1.6"/>
<path d="M92.0 396.8L99.0 403.8M99.0 396.8L92.0 403.8" stroke="#cf9d46" stroke-width="1.6"/>
<path d="M95.6 394.1L102.6 401.1M102.6 394.1L95.6 401.1" stroke="#cf9d46" stroke-width="1.6"/>
<circle cx="338.6" cy="615" r="3.3" fill="none" stroke="#ee7126" stroke-width="1.6"/>
<circle cx="331" cy="653" r="3.3" fill="none" stroke="#ee7126" stroke-width="1.6"/>
<path d="M64.0 379.3C70.0 379.3 88.0 379.1 100.0 379.3C112.0 379.5 126.0 379.9 136.0 380.5C146.0 381.1 152.7 382.0 160.0 383.2C167.3 384.4 174.2 385.6 180.0 387.5C185.8 389.4 190.9 391.9 195.0 394.5C199.1 397.1 201.5 400.5 204.7 403.4C207.9 406.3 211.2 408.7 214.4 412.1C217.6 415.5 221.1 419.8 224.0 423.7C226.9 427.6 229.6 430.9 231.8 435.3C234.0 439.7 235.3 444.6 237.2 450.0C239.1 455.4 241.0 461.3 243.0 468.0C245.0 474.7 246.9 483.0 249.0 490.0C251.1 497.0 253.3 503.3 255.5 510.0C257.7 516.7 260.0 523.3 262.0 530.0C264.0 536.7 265.6 543.3 267.5 550.0C269.4 556.7 271.6 564.2 273.5 570.0C275.4 575.8 276.8 579.0 279.0 585.0C281.2 591.0 284.2 601.5 286.5 606.3C288.8 611.1 291.2 612.3 293.0 613.9C294.8 615.5 295.6 615.3 297.4 616.0C299.2 616.7 301.7 617.3 303.9 618.2C306.1 619.1 308.2 620.4 310.4 621.5C312.6 622.6 314.7 624.0 316.9 624.7C319.1 625.4 320.5 625.5 323.4 625.8C326.3 626.1 330.0 626.2 334.3 626.4C338.6 626.6 346.6 626.8 349.0 626.9" stroke="#111" stroke-width="1.5" fill="none" stroke-linejoin="round" stroke-linecap="round"/>
<path d="M64.0 395.3C71.8 395.3 99.0 395.2 111.0 395.3C123.0 395.4 127.8 395.7 136.0 396.1C144.2 396.5 152.7 396.9 160.0 397.8C167.3 398.7 174.2 400.4 180.0 401.6C185.8 402.9 190.9 403.9 195.0 405.3C199.1 406.7 201.5 408.1 204.7 410.2C207.9 412.3 211.2 414.8 214.4 417.9C217.6 421.0 221.1 424.7 224.0 428.6C226.9 432.5 229.9 437.5 231.8 441.1C233.7 444.7 233.7 445.5 235.3 450.0C236.9 454.5 239.4 461.3 241.5 468.0C243.6 474.7 245.8 483.0 248.0 490.0C250.2 497.0 252.3 503.3 254.5 510.0C256.7 516.7 259.0 523.3 261.0 530.0C263.0 536.7 264.7 543.3 266.5 550.0C268.3 556.7 270.2 564.2 272.0 570.0C273.8 575.8 274.8 578.0 277.0 585.0C279.2 592.0 283.1 605.6 285.4 611.7C287.7 617.8 289.1 619.1 290.9 621.5C292.7 623.9 294.5 624.9 296.3 625.8C298.1 626.7 299.9 626.2 301.7 626.9C303.5 627.6 305.3 629.1 307.1 630.2C308.9 631.3 310.6 632.3 312.6 633.4C314.6 634.5 316.8 635.9 319.1 636.7C321.5 637.5 324.2 637.9 326.7 638.3C329.2 638.6 330.6 638.6 334.3 638.8C338.0 639.0 346.6 639.3 349.0 639.4" stroke="#111" stroke-width="1.5" fill="none" stroke-linejoin="round" stroke-linecap="round"/>
<path d="M248.6 491.6C249.7 494.9 252.9 504.9 255.1 511.6C257.3 518.3 259.6 524.9 261.6 531.6C263.6 538.3 265.3 544.9 267.1 551.6C268.9 558.3 270.9 565.8 272.6 571.6C274.4 577.4 275.4 579.6 277.6 586.6C279.8 593.6 283.7 607.2 286.0 613.3C288.3 619.4 289.7 620.8 291.5 623.1C293.3 625.5 295.1 626.5 296.9 627.4C298.7 628.3 300.5 627.8 302.3 628.5C304.1 629.2 305.9 630.7 307.7 631.8C309.5 632.9 311.2 633.9 313.2 635.0C315.2 636.1 317.4 637.5 319.7 638.3C322.1 639.1 324.8 639.5 327.3 639.9C329.8 640.2 331.2 640.2 334.9 640.4C338.6 640.6 347.2 640.9 349.6 641.0" stroke="#111" stroke-width="1.5" fill="none" stroke-linejoin="round" stroke-linecap="round"/>
</g>
<path d="M73.2 655.8v-3.5M87.8 655.8v-3.5M99.1 655.8v-3.5M108.3 655.8v-3.5M116.1 655.8v-3.5M122.9 655.8v-3.5M128.9 655.8v-3.5M134.2 655.8v-6M169.3 655.8v-3.5M189.8 655.8v-3.5M204.4 655.8v-3.5M215.7 655.8v-3.5M224.9 655.8v-3.5M232.7 655.8v-3.5M239.5 655.8v-3.5M245.5 655.8v-3.5M250.8 655.8v-6M285.9 655.8v-3.5M306.4 655.8v-3.5M321.0 655.8v-3.5M332.3 655.8v-3.5M341.5 655.8v-3.5M66 655.1h3.5M66 650.4h6M66 619.8h3.5M66 601.9h3.5M66 589.2h3.5M66 579.3h3.5M66 571.3h3.5M66 564.5h3.5M66 558.6h3.5M66 553.4h3.5M66 548.7h6M66 518.1h3.5M66 500.2h3.5M66 487.5h3.5M66 477.6h3.5M66 469.6h3.5M66 462.8h3.5M66 456.9h3.5M66 451.7h3.5M66 447.0h6M66 416.4h3.5M66 398.5h3.5M66 385.8h3.5M66 375.9h3.5M66 367.9h3.5M66 361.1h3.5M66 355.2h3.5M66 350.0h3.5" stroke="#333" stroke-width="1.3" fill="none"/>
<rect x="66" y="346.1" width="281.8" height="309.7" stroke="#333" stroke-width="1.6" fill="none"/>
<path d="M363.7 3V313.3M378.3 3V313.3M389.6 3V313.3M398.9 3V313.3M406.7 3V313.3M413.5 3V313.3M419.5 3V313.3M424.8 3V313.3M460.0 3V313.3M480.5 3V313.3M495.1 3V313.3M506.4 3V313.3M515.7 3V313.3M523.5 3V313.3M530.3 3V313.3M536.3 3V313.3M541.6 3V313.3M576.8 3V313.3M597.3 3V313.3M611.9 3V313.3M623.2 3V313.3M632.5 3V313.3M356.3 312.8H638.5M356.3 306.7H638.5M356.3 301.3H638.5M356.3 296.5H638.5M356.3 264.9H638.5M356.3 246.4H638.5M356.3 233.3H638.5M356.3 223.1H638.5M356.3 214.8H638.5M356.3 207.8H638.5M356.3 201.7H638.5M356.3 196.3H638.5M356.3 191.5H638.5M356.3 159.9H638.5M356.3 141.4H638.5M356.3 128.3H638.5M356.3 118.1H638.5M356.3 109.8H638.5M356.3 102.8H638.5M356.3 96.7H638.5M356.3 91.3H638.5M356.3 86.5H638.5M356.3 54.9H638.5M356.3 36.4H638.5M356.3 23.3H638.5M356.3 13.1H638.5M356.3 4.8H638.5" stroke="#f0f0f0" stroke-width="1.3" fill="none"/>
<clipPath id="clipc"><rect x="356.3" y="3" width="282.2" height="310.3"/></clipPath>
<g clip-path="url(#clipc)">
<path d="M380.0 105.0 L383.4 105.3 L386.9 105.6 L390.7 106.0 L394.5 106.3 L398.4 106.6 L402.3 106.7 L406.2 106.7 L410.0 106.5 L413.9 106.0 L417.9 105.3 L421.9 104.5 L425.9 103.5 L429.8 102.5 L433.6 101.4 L437.0 100.4 L440.0 99.5 L442.6 98.6 L444.8 97.7 L446.7 96.9 L448.4 96.0 L450.0 95.1 L451.6 94.2 L453.2 93.4 L455.0 92.5 L456.9 91.7 L458.8 90.9 L460.6 90.2 L462.5 89.4 L464.4 88.6 L466.2 87.8 L468.1 87.0 L470.0 86.0 L471.9 85.0 L473.8 83.8 L475.8 82.7 L477.7 81.4 L479.6 80.2 L481.5 78.9 L483.3 77.7 L485.0 76.5 L486.7 75.2 L488.5 73.9 L490.2 72.5 L491.9 71.2 L493.5 69.9 L494.9 68.7 L496.1 67.7 L497.0 67.0" stroke="#5377a0" stroke-width="7.5" fill="none" stroke-linejoin="round" stroke-linecap="round" opacity="1"/>
<path d="M362.4 97.6L368.5 101.1L362.4 104.6Z" fill="none" stroke="#5377a0" stroke-width="1.6" stroke-linejoin="miter"/>
<path d="M365.4 98.7L371.5 102.2L365.4 105.7Z" fill="none" stroke="#5377a0" stroke-width="1.6" stroke-linejoin="miter"/>
<path d="M369.7 99.1L375.8 102.6L369.7 106.1Z" fill="none" stroke="#5377a0" stroke-width="1.6" stroke-linejoin="miter"/>
<path d="M373.8 102.8L379.9 106.3L373.8 109.8Z" fill="none" stroke="#5377a0" stroke-width="1.6" stroke-linejoin="miter"/>
<path d="M377.6 99.6L383.7 103.1L377.6 106.6Z" fill="none" stroke="#5377a0" stroke-width="1.6" stroke-linejoin="miter"/>
<path d="M373.4 94.0 L376.7 94.6 L380.0 95.0 L383.4 95.2 L386.9 95.3 L390.7 95.4 L394.5 95.3 L398.4 95.2 L402.3 95.0 L406.2 94.7 L410.0 94.3 L413.9 93.8 L417.9 93.2 L421.9 92.5 L425.9 91.7 L429.8 90.9 L433.6 90.0 L437.0 89.2 L440.0 88.5 L442.6 87.8 L444.8 87.1 L446.7 86.4 L448.4 85.7 L450.0 85.0 L451.6 84.4 L453.2 83.7 L455.0 83.0 L456.9 82.3 L458.8 81.7 L460.6 81.0 L462.5 80.4 L464.4 79.7 L466.2 79.0 L468.1 78.3 L470.0 77.5 L471.9 76.6 L473.8 75.7 L475.8 74.7 L477.7 73.7 L479.6 72.6 L481.5 71.7 L483.3 70.8 L485.0 70.0 L486.7 69.3 L488.5 68.7 L490.2 68.1 L491.9 67.5 L493.5 67.1 L494.9 66.6 L496.1 66.3 L497.0 66.0" stroke="#ee7126" stroke-width="7.5" fill="none" stroke-linejoin="round" stroke-linecap="round" opacity="1"/>
<circle cx="359.0" cy="92.3" r="2.7" fill="none" stroke="#ee7126" stroke-width="1.6"/>
<circle cx="362.5" cy="88.7" r="2.7" fill="none" stroke="#ee7126" stroke-width="1.6"/>
<circle cx="366.4" cy="91.1" r="2.7" fill="none" stroke="#ee7126" stroke-width="1.6"/>
<circle cx="370.3" cy="94.2" r="2.7" fill="none" stroke="#ee7126" stroke-width="1.6"/>
<circle cx="373.5" cy="96.1" r="2.7" fill="none" stroke="#ee7126" stroke-width="1.6"/>
<path d="M370.2 78.9 L373.4 79.3 L376.7 79.7 L380.0 80.0 L383.4 80.3 L386.9 80.5 L390.7 80.8 L394.5 81.0 L398.4 81.1 L402.3 81.2 L406.2 81.2 L410.0 81.0 L413.9 80.7 L417.9 80.2 L421.9 79.6 L425.9 79.0 L429.8 78.3 L433.6 77.6 L437.0 77.0 L440.0 76.4 L442.6 75.9 L444.8 75.5 L446.7 75.0 L448.4 74.6 L450.0 74.2 L451.6 73.8 L453.2 73.4 L455.0 73.0 L456.9 72.6 L458.8 72.2 L460.6 71.8 L462.5 71.5 L464.4 71.1 L466.2 70.7 L468.1 70.4 L470.0 70.0 L471.9 69.6 L473.8 69.2 L475.8 68.8 L477.7 68.4 L479.6 68.0 L481.5 67.6 L483.3 67.3 L485.0 67.0 L486.7 66.7 L488.5 66.5 L490.2 66.3 L491.9 66.1 L493.5 65.9 L494.9 65.7 L496.1 65.6 L497.0 65.5" stroke="#cf9d46" stroke-width="7" fill="none" stroke-linejoin="round" stroke-linecap="round" opacity="1"/>
<path d="M355.5 75.8L362.5 82.8M362.5 75.8L355.5 82.8" stroke="#cf9d46" stroke-width="1.6"/>
<path d="M359.9 76.3L366.9 83.3M366.9 76.3L359.9 83.3" stroke="#cf9d46" stroke-width="1.6"/>
<path d="M364.2 78.0L371.2 85.0M371.2 78.0L364.2 85.0" stroke="#cf9d46" stroke-width="1.6"/>
<path d="M368.4 78.1L375.4 85.1M375.4 78.1L368.4 85.1" stroke="#cf9d46" stroke-width="1.6"/>
<path d="M364.3 69.7 L367.1 69.8 L370.2 69.9 L373.4 69.9 L376.7 70.0 L380.0 70.0 L383.4 70.0 L386.9 70.0 L390.7 70.0 L394.5 69.9 L398.4 69.9 L402.3 69.8 L406.2 69.7 L410.0 69.5 L413.9 69.3 L417.9 69.0 L421.9 68.7 L425.9 68.3 L429.8 68.0 L433.6 67.6 L437.0 67.3 L440.0 67.1 L442.6 66.9 L444.8 66.8 L446.7 66.7 L448.4 66.6 L450.0 66.5 L451.6 66.5 L453.2 66.4 L455.0 66.2 L456.9 66.0 L458.8 65.8 L460.6 65.5 L462.5 65.3 L464.4 65.0 L466.2 64.8 L468.1 64.5 L470.0 64.3 L471.9 64.1 L473.8 63.9 L475.8 63.6 L477.7 63.4 L479.6 63.2 L481.5 63.1 L483.3 63.0 L485.0 63.0 L486.7 63.1 L488.5 63.3 L490.2 63.6 L491.9 63.9 L493.5 64.3 L494.9 64.6 L496.1 64.8 L497.0 65.0" stroke="#7f5480" stroke-width="6.5" fill="none" stroke-linejoin="round" stroke-linecap="round" opacity="1"/>
<path d="M361.6 64.7L355.5 68.2L361.6 71.7Z" fill="none" stroke="#7f5480" stroke-width="1.6" stroke-linejoin="miter"/>
<path d="M365.8 63.5L359.7 67.0L365.8 70.5Z" fill="none" stroke="#7f5480" stroke-width="1.6" stroke-linejoin="miter"/>
<path d="M358.0 62.0 L359.6 62.0 L361.8 61.9 L364.3 61.8 L367.1 61.7 L370.2 61.7 L373.4 61.6 L376.7 61.5 L380.0 61.5 L383.4 61.5 L386.9 61.5 L390.7 61.6 L394.5 61.6 L398.4 61.7 L402.3 61.7 L406.2 61.7 L410.0 61.6 L413.9 61.5 L417.9 61.3 L421.9 61.1 L425.9 60.9 L429.8 60.6 L433.6 60.4 L437.0 60.1 L440.0 59.9 L442.6 59.7 L444.8 59.5 L446.7 59.3 L448.4 59.1 L450.0 58.9 L451.6 58.7 L453.2 58.5 L455.0 58.3 L456.9 58.1 L458.8 57.9 L460.6 57.7 L462.5 57.5 L464.4 57.3 L466.2 57.2 L468.1 57.1 L470.0 57.2 L471.9 57.4 L473.8 57.6 L475.8 57.9 L477.7 58.3 L479.6 58.7 L481.5 59.1 L483.3 59.5 L485.0 60.0 L486.7 60.5 L488.5 61.1 L490.2 61.8 L491.9 62.4 L493.5 63.1 L494.9 63.7 L496.1 64.1 L497.0 64.5" stroke="#65806a" stroke-width="8.5" fill="none" stroke-linejoin="round" stroke-linecap="round" opacity="1"/>
<path d="M496.6 52.4C497.5 51.3 499.6 55.5 501.5 57.3C503.4 59.1 505.9 60.9 508.0 63.0C510.1 65.1 512.2 67.4 514.3 69.8C516.4 72.2 518.6 74.9 520.4 77.5C522.2 80.1 523.7 82.8 525.3 85.4C526.9 88.0 528.5 90.3 530.0 93.1C531.5 95.8 533.1 98.9 534.6 101.9C536.1 104.9 537.8 108.0 539.2 111.0C540.7 114.0 541.3 115.2 543.3 120.0C545.3 124.8 548.6 133.3 551.0 140.0C553.4 146.7 555.9 153.3 557.8 160.0C559.7 166.7 561.0 173.3 562.5 180.0C564.0 186.7 565.7 193.3 567.1 200.0C568.5 206.7 569.9 213.3 571.0 220.0C572.1 226.7 573.2 235.0 574.0 240.0C574.8 245.0 575.0 247.0 575.5 250.0C576.0 253.0 578.5 256.7 577.3 258.0C576.0 259.3 569.9 259.3 568.0 258.0C566.1 256.7 566.6 253.0 566.0 250.0C565.4 247.0 565.0 245.0 564.1 240.0C563.2 235.0 561.8 226.7 560.5 220.0C559.2 213.3 558.1 206.7 556.6 200.0C555.1 193.3 553.4 186.7 551.5 180.0C549.6 173.3 547.7 166.7 545.5 160.0C543.3 153.3 541.1 146.7 538.5 140.0C535.9 133.3 532.3 125.8 529.7 120.0C527.1 114.2 524.6 108.7 522.8 105.0C521.0 101.3 520.5 100.5 519.0 98.0C517.5 95.5 515.7 92.6 514.1 90.2C512.5 87.8 510.8 85.8 509.2 83.4C507.6 81.0 506.0 78.0 504.4 75.7C502.8 73.5 500.9 71.9 499.5 69.9C498.1 68.0 496.5 66.9 496.0 64.0C495.5 61.1 495.7 53.5 496.6 52.4Z" fill="#1a1a1a"/>
<path d="M358.0 43.4C366.7 43.5 398.0 43.8 410.0 44.0C422.0 44.2 422.9 44.2 430.0 44.5C437.1 44.8 445.2 45.1 452.6 46.0C460.0 46.9 468.1 48.0 474.3 50.0C480.5 52.0 485.7 55.7 490.0 58.0C494.3 60.3 496.7 61.8 500.0 64.0C503.3 66.2 508.3 69.8 510.0 71.0" stroke="#835a4b" stroke-width="5.5" fill="none" stroke-linejoin="round" stroke-linecap="round" opacity="1"/>
<path d="M358.0 36.5C366.7 36.6 398.0 37.2 410.0 37.3C422.0 37.3 424.7 36.8 430.0 36.8C435.3 36.8 437.9 37.1 441.7 37.5C445.5 37.9 449.0 38.4 452.6 39.0C456.2 39.6 459.8 40.1 463.4 41.3C467.0 42.5 470.7 44.1 474.3 46.1C477.9 48.1 481.6 50.7 485.0 53.0C488.4 55.3 491.7 57.7 495.0 60.0C498.3 62.3 502.0 64.7 505.0 67.0C508.0 69.3 511.7 72.8 513.0 74.0" stroke="#7cb82e" stroke-width="8" fill="none" stroke-linejoin="round" stroke-linecap="round" opacity="1"/>
<path d="M529.0 93.1C529.8 94.6 532.1 98.9 533.6 101.9C535.1 104.9 536.8 108.0 538.2 111.0C539.7 114.0 540.3 115.2 542.3 120.0C544.3 124.8 547.6 133.3 550.0 140.0C552.4 146.7 554.9 153.3 556.8 160.0C558.7 166.7 560.0 173.3 561.5 180.0C563.0 186.7 564.7 193.3 566.1 200.0C567.5 206.7 568.9 213.3 570.0 220.0C571.1 226.7 572.2 235.0 573.0 240.0C573.8 245.0 574.0 247.0 574.5 250.0C575.0 253.0 576.0 256.7 576.3 258.0" stroke="#7cb82e" stroke-width="2.4" fill="none" stroke-linejoin="round" stroke-linecap="round" opacity="1"/>
<path d="M358.0 17.0C361.7 17.1 373.0 17.3 380.0 17.5C387.0 17.7 393.3 17.8 400.0 18.3C406.7 18.9 413.1 19.7 420.0 20.8C426.9 21.9 436.3 23.4 441.7 25.0C447.1 26.6 449.0 28.6 452.6 30.4C456.2 32.2 459.8 33.7 463.4 35.8C467.0 37.9 470.7 40.5 474.3 43.0C477.9 45.5 481.6 48.3 485.0 51.0C488.4 53.7 491.7 56.3 495.0 59.0C498.3 61.7 503.3 65.7 505.0 67.0" stroke="#18a0dc" stroke-width="6" fill="none" stroke-linejoin="round" stroke-linecap="round" opacity="1"/>
<path d="M358.0 11.5C361.7 11.6 373.0 11.8 380.0 12.0C387.0 12.2 393.3 12.3 400.0 12.8C406.7 13.3 413.1 13.8 420.0 15.0C426.9 16.2 436.3 18.1 441.7 19.8C447.1 21.5 449.0 23.1 452.6 25.0C456.2 26.9 459.8 28.7 463.4 31.0C467.0 33.3 470.7 36.2 474.3 39.0C477.9 41.8 481.6 45.2 485.0 48.0C488.4 50.8 491.7 53.2 495.0 56.0C498.3 58.8 503.3 63.5 505.0 65.0" stroke="#8a8a8a" stroke-width="3.5" fill="none" stroke-linejoin="round" stroke-linecap="round" opacity="1"/>
<path d="M571.7 240.0C573.2 243.0 573.5 253.1 574.4 258.0C575.3 262.9 576.2 266.4 577.1 269.7C578.0 273.0 578.8 278.2 579.8 277.8C580.8 277.4 582.2 270.3 583.4 267.0C584.6 263.7 585.6 260.9 587.0 258.0C588.4 255.2 590.0 251.4 591.5 249.9C593.0 248.4 594.5 248.6 596.0 249.0C597.5 249.4 599.0 250.8 600.5 252.6C602.0 254.4 603.6 257.4 605.0 259.8C606.4 262.2 607.6 263.7 608.6 267.0C609.6 270.3 610.0 278.9 611.3 279.6C612.6 280.3 614.4 273.2 616.3 271.3C618.2 269.4 620.7 268.3 622.9 268.0C625.1 267.7 627.5 268.3 629.6 269.7C631.7 271.1 633.7 273.6 635.4 276.3C637.1 279.1 639.2 280.2 640.0 286.2C640.8 292.1 640.4 308.1 640.0 312.0C639.6 315.9 638.7 311.0 637.8 309.5C636.9 308.0 635.6 306.1 634.5 302.8C633.4 299.5 632.6 293.5 631.2 289.6C629.8 285.7 628.1 280.7 626.2 279.6C624.3 278.5 621.2 280.7 619.6 282.9C618.0 285.1 617.7 290.4 616.3 292.9C614.9 295.3 612.3 296.8 611.0 297.6C609.7 298.4 609.5 298.2 608.6 297.6C607.8 297.0 606.8 296.1 605.9 294.0C605.0 291.9 604.2 287.7 603.2 285.0C602.2 282.3 600.8 279.9 599.6 277.8C598.4 275.7 597.2 273.0 596.0 272.4C594.8 271.8 593.4 272.8 592.4 274.2C591.4 275.6 590.6 277.8 589.7 280.5C588.8 283.2 588.0 287.7 587.0 290.4C586.0 293.1 584.6 295.1 583.4 296.6C582.2 298.1 581.0 299.5 579.8 299.4C578.6 299.3 577.4 298.2 576.2 295.8C575.0 293.4 573.8 289.8 572.6 285.0C571.4 280.2 570.2 274.5 569.0 267.0C567.8 259.5 564.9 244.5 565.4 240.0C565.9 235.5 570.2 237.0 571.7 240.0Z" fill="#e82d28" stroke="#7f8f6f" stroke-width="1.4" stroke-linejoin="round"/>
<path d="M358.0 6.9C361.7 7.0 373.0 7.1 380.0 7.3C387.0 7.5 393.3 7.6 400.0 8.0C406.7 8.4 413.1 8.9 420.0 9.9C426.9 10.9 436.3 12.6 441.7 14.2C447.1 15.8 449.0 17.7 452.6 19.7C456.2 21.7 459.8 23.8 463.4 26.3C467.0 28.8 472.5 33.4 474.3 34.8" stroke="#e82d28" stroke-width="4" fill="none" stroke-linejoin="round" stroke-linecap="round" opacity="1"/>
<path d="M463.4 26.3C465.2 27.7 471.1 32.1 474.3 34.8C477.6 37.5 480.4 39.9 482.9 42.3C485.4 44.6 487.2 46.7 489.5 48.9C491.8 51.1 494.6 53.6 496.6 55.5C498.6 57.4 499.7 58.5 501.5 60.3C503.3 62.1 505.4 64.1 507.3 66.3C509.2 68.5 511.2 70.8 513.1 73.2C515.0 75.6 516.8 78.3 518.4 80.8C520.0 83.3 521.2 85.5 522.6 88.0C524.0 90.5 525.6 93.5 526.8 96.0C528.0 98.5 529.0 100.6 530.0 103.0C531.0 105.4 531.8 107.7 533.0 110.5C534.2 113.3 535.0 115.1 537.0 120.0C539.0 124.9 542.5 133.3 545.0 140.0C547.5 146.7 549.8 153.3 551.7 160.0C553.6 166.7 555.2 173.3 556.6 180.0C558.0 186.7 559.1 193.3 560.3 200.0C561.4 206.7 562.5 213.3 563.5 220.0C564.5 226.7 565.4 234.2 566.2 240.0C567.0 245.8 567.9 252.5 568.3 255.0" stroke="#e82d28" stroke-width="5" fill="none" stroke-linejoin="round" stroke-linecap="round" opacity="1"/>
<path d="M569.6 258.0C569.3 256.7 568.2 253.0 567.6 250.0C567.0 247.0 566.6 245.0 565.7 240.0C564.8 235.0 563.4 226.7 562.1 220.0C560.9 213.3 559.7 206.7 558.2 200.0C556.7 193.3 555.0 186.7 553.1 180.0C551.2 173.3 549.3 166.7 547.1 160.0C544.9 153.3 542.7 146.7 540.1 140.0C537.5 133.3 532.8 123.3 531.3 120.0" stroke="#e82d28" stroke-width="3.2" fill="none" stroke-linejoin="round" stroke-linecap="round" opacity="1"/>
<path d="M358.0 109.2C361.7 109.2 371.3 109.4 380.0 109.0C388.7 108.6 400.0 108.4 410.0 106.8C420.0 105.2 432.5 101.4 440.0 99.4C447.5 97.4 450.0 96.8 455.0 94.9C460.0 93.0 465.0 90.9 470.0 88.0C475.0 85.1 480.5 81.2 485.0 77.5C489.5 73.8 494.0 67.2 497.0 66.0C500.0 64.8 502.0 69.3 503.0 70.0" stroke="#111" stroke-width="1.3" fill="none" stroke-linejoin="round" stroke-linecap="round"/>
<path d="M358.0 96.8C361.7 96.8 371.3 96.6 380.0 96.5C388.7 96.4 400.0 97.2 410.0 96.0C420.0 94.8 432.5 91.0 440.0 89.3C447.5 87.6 450.0 87.5 455.0 85.8C460.0 84.1 465.0 81.4 470.0 79.0C475.0 76.6 480.5 73.7 485.0 71.5C489.5 69.3 494.0 66.2 497.0 66.0C500.0 65.8 502.0 69.3 503.0 70.0" stroke="#111" stroke-width="1.3" fill="none" stroke-linejoin="round" stroke-linecap="round"/>
<path d="M358.0 84.4C361.7 84.2 371.3 83.8 380.0 83.5C388.7 83.2 400.0 83.6 410.0 82.6C420.0 81.6 432.5 78.6 440.0 77.3C447.5 76.0 450.0 75.6 455.0 74.5C460.0 73.4 465.0 71.8 470.0 70.5C475.0 69.2 480.5 67.8 485.0 67.0C489.5 66.2 494.0 65.0 497.0 65.5C500.0 66.0 502.0 69.2 503.0 70.0" stroke="#111" stroke-width="1.3" fill="none" stroke-linejoin="round" stroke-linecap="round"/>
<path d="M358.0 68.8C361.7 68.8 371.3 68.7 380.0 68.6C388.7 68.5 400.0 68.9 410.0 68.4C420.0 67.9 432.5 66.2 440.0 65.5C447.5 64.8 450.0 64.7 455.0 64.4C460.0 64.1 465.0 63.7 470.0 63.5C475.0 63.3 480.5 62.8 485.0 63.0C489.5 63.2 494.0 63.3 497.0 64.5C500.0 65.7 502.0 69.1 503.0 70.0" stroke="#111" stroke-width="1.3" fill="none" stroke-linejoin="round" stroke-linecap="round"/>
<path d="M358.0 61.5C361.7 61.5 371.3 61.3 380.0 61.3C388.7 61.2 400.0 61.5 410.0 61.2C420.0 60.9 432.5 60.0 440.0 59.5C447.5 59.0 450.0 58.8 455.0 58.5C460.0 58.2 465.0 57.8 470.0 58.0C475.0 58.2 480.5 59.0 485.0 60.0C489.5 61.0 494.0 62.3 497.0 64.0C500.0 65.7 502.0 69.0 503.0 70.0" stroke="#111" stroke-width="1.3" fill="none" stroke-linejoin="round" stroke-linecap="round"/>
<path d="M358.0 45.0C366.7 45.0 394.2 44.7 410.0 45.0C425.8 45.3 441.9 46.0 452.6 47.0C463.3 48.0 468.1 49.1 474.3 51.0C480.5 52.9 485.2 55.7 490.0 58.5C494.8 61.3 500.8 66.4 503.0 68.0" stroke="#111" stroke-width="1.3" fill="none" stroke-linejoin="round" stroke-linecap="round"/>
<path d="M358.0 38.8C366.7 38.8 396.1 39.0 410.0 38.8C423.9 38.6 434.6 38.0 441.7 37.8C448.8 37.6 449.0 37.2 452.6 37.5C456.2 37.8 459.8 38.3 463.4 39.5C467.0 40.7 470.7 42.4 474.3 44.5C477.9 46.6 481.2 49.2 485.0 52.0C488.8 54.8 493.7 58.3 497.0 61.0C500.3 63.7 503.7 66.8 505.0 68.0" stroke="#111" stroke-width="1.3" fill="none" stroke-linejoin="round" stroke-linecap="round"/>
<path d="M358.0 32.6C366.7 32.6 396.1 32.4 410.0 32.6C423.9 32.8 434.6 33.5 441.7 34.0C448.8 34.5 449.0 34.8 452.6 35.5C456.2 36.2 459.8 37.2 463.4 38.5C467.0 39.8 470.7 41.4 474.3 43.5C477.9 45.6 481.2 48.2 485.0 51.0C488.8 53.8 493.7 57.3 497.0 60.0C500.3 62.7 503.7 65.8 505.0 67.0" stroke="#111" stroke-width="1.3" fill="none" stroke-linejoin="round" stroke-linecap="round"/>
<path d="M358.0 18.5C363.3 18.5 379.7 18.3 390.0 18.7C400.3 19.1 411.4 19.8 420.0 20.6C428.6 21.4 436.3 22.4 441.7 23.5C447.1 24.6 449.0 25.9 452.6 27.5C456.2 29.1 459.8 30.8 463.4 33.0C467.0 35.2 470.7 38.2 474.3 41.0C477.9 43.8 481.6 46.8 485.0 49.5C488.4 52.2 491.7 54.8 495.0 57.5C498.3 60.2 503.3 64.6 505.0 66.0" stroke="#111" stroke-width="1.3" fill="none" stroke-linejoin="round" stroke-linecap="round"/>
<path d="M358.0 10.2C363.3 10.2 379.7 10.1 390.0 10.5C400.3 10.9 411.4 11.5 420.0 12.6C428.6 13.7 436.3 15.4 441.7 17.0C447.1 18.6 449.0 20.3 452.6 22.3C456.2 24.3 459.8 26.5 463.4 29.0C467.0 31.5 470.7 34.7 474.3 37.5C477.9 40.3 481.6 43.2 485.0 46.0C488.4 48.8 491.7 51.2 495.0 54.0C498.3 56.8 503.3 61.5 505.0 63.0" stroke="#111" stroke-width="1.3" fill="none" stroke-linejoin="round" stroke-linecap="round"/>
<path d="M505.0 70.0C506.2 71.7 509.5 76.3 512.0 80.0C514.5 83.7 517.3 88.0 520.0 92.0C522.7 96.0 525.7 100.3 528.0 104.0C530.3 107.7 532.5 111.3 534.0 114.0C535.5 116.7 535.1 115.7 537.0 120.0C538.9 124.3 542.9 133.3 545.5 140.0C548.1 146.7 550.3 153.3 552.5 160.0C554.7 166.7 556.8 173.3 558.5 180.0C560.2 186.7 561.7 193.3 563.0 200.0C564.3 206.7 565.3 213.3 566.5 220.0C567.7 226.7 569.0 234.4 570.0 240.0C571.0 245.6 571.7 249.4 572.6 253.5C573.5 257.6 574.4 261.4 575.3 264.3C576.2 267.2 577.0 269.4 578.0 270.6C579.0 271.8 580.4 272.1 581.6 271.5C582.8 270.9 584.0 268.2 585.2 267.0C586.4 265.8 587.6 264.4 588.8 264.3C590.0 264.2 591.2 265.1 592.4 266.1C593.6 267.2 594.8 269.0 596.0 270.6C597.2 272.2 598.4 274.4 599.6 276.0C600.8 277.6 602.0 279.1 603.2 280.5C604.4 281.9 605.2 283.2 606.8 284.1C608.4 285.1 610.3 285.9 613.0 286.2C615.7 286.5 619.6 286.0 622.9 286.2C626.2 286.4 630.0 286.8 632.9 287.1C635.8 287.4 638.8 287.8 640.0 287.9" stroke="#111" stroke-width="4" fill="none" stroke-linejoin="round" stroke-linecap="round"/>
</g>
<path d="M363.7 313.3v-3.5M378.3 313.3v-3.5M389.6 313.3v-3.5M398.9 313.3v-3.5M406.7 313.3v-3.5M413.5 313.3v-3.5M419.5 313.3v-3.5M424.8 313.3v-6M460.0 313.3v-3.5M480.5 313.3v-3.5M495.1 313.3v-3.5M506.4 313.3v-3.5M515.7 313.3v-3.5M523.5 313.3v-3.5M530.3 313.3v-3.5M536.3 313.3v-3.5M541.6 313.3v-6M576.8 313.3v-3.5M597.3 313.3v-3.5M611.9 313.3v-3.5M623.2 313.3v-3.5M632.5 313.3v-3.5M356.3 312.8h3.5M356.3 306.7h3.5M356.3 301.3h3.5M356.3 296.5h6M356.3 264.9h3.5M356.3 246.4h3.5M356.3 233.3h3.5M356.3 223.1h3.5M356.3 214.8h3.5M356.3 207.8h3.5M356.3 201.7h3.5M356.3 196.3h3.5M356.3 191.5h6M356.3 159.9h3.5M356.3 141.4h3.5M356.3 128.3h3.5M356.3 118.1h3.5M356.3 109.8h3.5M356.3 102.8h3.5M356.3 96.7h3.5M356.3 91.3h3.5M356.3 86.5h6M356.3 54.9h3.5M356.3 36.4h3.5M356.3 23.3h3.5M356.3 13.1h3.5M356.3 4.8h3.5" stroke="#333" stroke-width="1.3" fill="none"/>
<rect x="356.3" y="3" width="282.2" height="310.3" stroke="#333" stroke-width="1.6" fill="none"/>
<path d="M363.7 346.3V656M378.3 346.3V656M389.6 346.3V656M398.9 346.3V656M406.7 346.3V656M413.5 346.3V656M419.5 346.3V656M424.8 346.3V656M460.0 346.3V656M480.5 346.3V656M495.1 346.3V656M506.4 346.3V656M515.7 346.3V656M523.5 346.3V656M530.3 346.3V656M536.3 346.3V656M541.6 346.3V656M576.8 346.3V656M597.3 346.3V656M611.9 346.3V656M623.2 346.3V656M632.5 346.3V656M356.3 652.8H638.5M356.3 646.0H638.5M356.3 640.2H638.5M356.3 635.0H638.5M356.3 630.4H638.5M356.3 600.0H638.5M356.3 582.3H638.5M356.3 569.7H638.5M356.3 559.9H638.5M356.3 551.9H638.5M356.3 545.1H638.5M356.3 539.3H638.5M356.3 534.1H638.5M356.3 529.5H638.5M356.3 499.1H638.5M356.3 481.4H638.5M356.3 468.8H638.5M356.3 459.0H638.5M356.3 451.0H638.5M356.3 444.2H638.5M356.3 438.4H638.5M356.3 433.2H638.5M356.3 428.6H638.5M356.3 398.2H638.5M356.3 380.5H638.5M356.3 367.9H638.5M356.3 358.1H638.5M356.3 350.1H638.5" stroke="#f0f0f0" stroke-width="1.3" fill="none"/>
<clipPath id="clipd"><rect x="356.3" y="346.3" width="282.2" height="309.7"/></clipPath>
<g clip-path="url(#clipd)">
<path d="M572.3 575.0C574.0 576.7 574.4 583.2 575.4 587.4C576.4 591.5 577.5 597.5 578.5 599.9C579.5 602.3 580.4 602.7 581.6 602.0C582.8 601.3 584.3 598.0 585.7 595.7C587.1 593.5 588.5 590.4 589.9 588.5C591.3 586.6 592.5 585.1 594.0 584.3C595.5 583.5 597.8 583.4 599.2 583.8C600.6 584.1 601.2 584.8 602.3 586.4C603.3 588.0 604.5 591.1 605.5 593.7C606.5 596.3 607.6 599.9 608.6 602.0C609.6 604.1 610.6 605.8 611.7 606.1C612.8 606.4 613.9 604.8 615.0 604.0C616.1 603.2 616.8 602.3 618.1 601.5C619.5 600.7 621.2 599.4 623.1 599.0C625.0 598.6 627.8 598.3 629.7 599.0C631.6 599.7 633.2 601.3 634.7 603.1C636.2 604.9 638.3 601.0 639.0 609.8C639.7 618.6 639.2 648.8 639.0 656.0C638.8 663.2 639.0 655.7 638.0 653.0C637.0 650.3 634.6 644.1 633.0 639.7C631.4 635.3 629.8 628.1 628.1 626.4C626.5 624.7 624.8 627.8 623.1 629.7C621.4 631.6 619.8 636.0 618.1 638.0C616.4 640.0 614.3 640.7 612.7 641.4C611.1 642.1 609.8 642.9 608.6 642.4C607.4 641.9 606.5 640.5 605.5 638.3C604.5 636.0 603.3 632.5 602.3 628.9C601.2 625.3 600.2 619.4 599.2 616.5C598.2 613.6 597.3 611.8 596.1 611.3C594.9 610.8 593.0 612.2 592.0 613.4C591.0 614.6 590.8 615.7 589.9 618.6C589.0 621.5 587.8 627.5 586.8 631.0C585.8 634.5 584.7 637.4 583.7 639.3C582.7 641.2 581.8 642.4 580.6 642.4C579.4 642.4 577.6 641.2 576.4 639.3C575.2 637.4 574.3 634.8 573.3 631.0C572.3 627.2 571.2 622.4 570.2 616.5C569.2 610.6 568.0 602.3 567.1 595.7C566.2 589.1 564.1 580.5 565.0 577.0C565.9 573.5 570.6 573.3 572.3 575.0Z" fill="#ee7126"/>
<path d="M572.3 577.0C574.0 579.2 574.4 585.8 575.4 590.0C576.4 594.2 577.5 599.7 578.5 602.0C579.5 604.3 580.4 604.7 581.6 604.0C582.8 603.3 584.3 599.9 585.7 598.0C587.1 596.1 588.2 594.0 589.9 592.6C591.6 591.2 594.0 589.3 596.1 589.5C598.2 589.7 600.6 590.9 602.3 593.7C604.0 596.5 605.1 603.0 606.5 606.1C607.9 609.2 609.2 611.3 610.6 612.3C612.0 613.3 613.4 613.0 615.0 612.3C616.6 611.6 618.3 609.2 620.0 608.0C621.7 606.8 623.3 605.5 625.0 605.0C626.7 604.5 628.3 604.5 630.0 605.0C631.7 605.5 633.5 606.5 635.0 608.0C636.5 609.5 638.3 606.0 639.0 614.0C639.7 622.0 639.2 649.5 639.0 656.0C638.8 662.5 639.0 655.7 638.0 653.0C637.0 650.3 634.6 644.1 633.0 639.7C631.4 635.3 629.8 628.1 628.1 626.4C626.5 624.7 624.8 627.8 623.1 629.7C621.4 631.6 619.8 636.0 618.1 638.0C616.4 640.0 614.3 640.7 612.7 641.4C611.1 642.1 609.8 642.9 608.6 642.4C607.4 641.9 606.5 640.5 605.5 638.3C604.5 636.0 603.3 632.5 602.3 628.9C601.2 625.3 600.2 619.4 599.2 616.5C598.2 613.6 597.3 611.8 596.1 611.3C594.9 610.8 593.0 612.2 592.0 613.4C591.0 614.6 590.8 615.7 589.9 618.6C589.0 621.5 587.8 627.5 586.8 631.0C585.8 634.5 584.7 637.4 583.7 639.3C582.7 641.2 581.8 642.4 580.6 642.4C579.4 642.4 577.6 641.2 576.4 639.3C575.2 637.4 574.3 634.8 573.3 631.0C572.3 627.2 571.2 622.4 570.2 616.5C569.2 610.6 568.0 602.3 567.1 595.7C566.2 589.1 564.1 580.1 565.0 577.0C565.9 573.9 570.6 574.8 572.3 577.0Z" fill="#7f5480"/>
<path d="M505.0 401.0C505.4 398.4 506.1 401.7 507.7 403.5C509.3 405.3 512.3 408.8 514.6 411.8C516.9 414.8 519.2 418.0 521.5 421.5C523.8 425.0 526.4 429.4 528.4 432.6C530.4 435.8 531.8 437.9 533.5 440.5C535.2 443.1 537.0 446.1 538.5 448.5C540.0 450.9 541.0 452.5 542.3 454.7C543.5 456.9 544.9 459.2 546.0 461.5C547.1 463.8 548.2 466.0 549.2 468.6C550.2 471.2 551.2 474.1 552.2 477.0C553.2 479.9 553.9 482.2 555.0 486.0C556.1 489.8 557.6 494.3 559.0 500.0C560.4 505.7 562.0 513.3 563.5 520.0C565.0 526.7 566.6 534.2 567.8 540.0C569.0 545.8 569.6 550.0 570.5 555.0C571.4 560.0 572.7 566.3 573.4 570.0C574.1 573.7 575.9 575.8 574.5 577.0C573.1 578.2 566.9 578.2 565.0 577.0C563.1 575.8 563.7 573.7 562.9 570.0C562.1 566.3 561.0 560.0 560.0 555.0C559.0 550.0 557.9 545.8 556.6 540.0C555.3 534.2 553.6 526.7 552.0 520.0C550.4 513.3 548.8 505.5 547.2 500.0C545.6 494.5 543.8 490.8 542.5 487.0C541.2 483.2 540.7 480.1 539.5 477.0C538.3 473.9 537.2 472.3 535.4 468.6C533.5 464.9 530.7 459.1 528.4 454.7C526.1 450.3 523.8 446.2 521.5 442.3C519.2 438.4 516.9 434.7 514.6 431.2C512.3 427.7 509.3 423.5 507.7 421.5C506.1 419.5 505.4 422.4 505.0 419.0C504.6 415.6 504.6 403.6 505.0 401.0Z" fill="#7f5480"/>
<path d="M513.9 412.1C515.0 413.7 518.5 418.3 520.8 421.8C523.1 425.3 525.7 429.7 527.7 432.9C529.7 436.1 531.1 438.2 532.8 440.8C534.5 443.4 536.3 446.4 537.8 448.8C539.3 451.2 540.3 452.8 541.6 455.0C542.8 457.2 544.1 459.5 545.3 461.8C546.4 464.1 547.5 466.3 548.5 468.9C549.5 471.5 550.5 474.4 551.5 477.3C552.5 480.2 553.2 482.5 554.3 486.3C555.4 490.1 556.9 494.6 558.3 500.3C559.7 506.0 561.3 513.6 562.8 520.3C564.3 527.0 565.9 534.5 567.1 540.3C568.3 546.1 568.9 550.3 569.8 555.3C570.7 560.3 572.0 566.6 572.7 570.3C573.4 574.0 573.6 576.1 573.8 577.3" stroke="#ee7126" stroke-width="1.6" fill="none" stroke-linejoin="round" stroke-linecap="round" opacity="1"/>
<path d="M565.6 577.0C565.2 575.8 564.3 573.7 563.5 570.0C562.7 566.3 561.6 560.0 560.6 555.0C559.6 550.0 558.5 545.8 557.2 540.0C555.9 534.2 554.2 526.7 552.6 520.0C551.0 513.3 549.4 505.5 547.8 500.0C546.2 494.5 544.4 490.8 543.1 487.0C541.8 483.2 541.3 480.1 540.1 477.0C538.9 473.9 537.9 472.3 536.0 468.6C534.1 464.9 531.3 459.1 529.0 454.7C526.7 450.3 524.4 446.2 522.1 442.3C519.8 438.4 517.5 434.7 515.2 431.2C512.9 427.7 509.5 423.1 508.3 421.5" stroke="#cf9d46" stroke-width="1.4" fill="none" stroke-linejoin="round" stroke-linecap="round" opacity="1"/>
<path d="M358.0 355.0C361.7 355.1 371.3 355.2 380.0 355.5C388.7 355.8 399.2 355.5 410.0 356.7C420.8 357.9 436.7 360.9 445.0 362.5C453.3 364.1 455.0 364.3 460.0 366.0C465.0 367.7 472.5 371.4 475.0 372.5" stroke="#44709a" stroke-width="5.5" fill="none" stroke-linejoin="round" stroke-linecap="round" opacity="1"/>
<path d="M460.0 365.2C462.5 366.3 470.8 369.5 475.0 371.7C479.2 373.9 481.7 375.6 485.0 378.2C488.3 380.8 493.3 385.7 495.0 387.2" stroke="#44709a" stroke-width="3" fill="none" stroke-linejoin="round" stroke-linecap="round" opacity="1"/>
<path d="M358.0 357.7C361.7 358.0 371.3 358.5 380.0 359.5C388.7 360.5 399.2 361.9 410.0 363.5C420.8 365.1 436.7 367.5 445.0 368.8C453.3 370.1 455.0 370.0 460.0 371.5C465.0 373.0 470.0 374.7 475.0 377.6C480.0 380.5 485.8 385.5 490.0 388.8C494.2 392.1 497.0 394.6 500.0 397.5C503.0 400.4 505.6 403.5 508.0 406.3C510.4 409.1 513.5 413.0 514.6 414.3" stroke="#ee7126" stroke-width="8" fill="none" stroke-linejoin="round" stroke-linecap="round" opacity="1"/>
<path d="M508.0 406.3C509.1 407.6 512.8 411.9 514.6 414.3C516.4 416.7 518.3 419.5 519.0 420.5" stroke="#ee7126" stroke-width="3.5" fill="none" stroke-linejoin="round" stroke-linecap="round" opacity="1"/>
<path d="M365.0 381.8C367.5 381.6 372.5 381.0 380.0 380.8C387.5 380.6 399.2 380.0 410.0 380.7C420.8 381.4 436.7 383.9 445.0 384.8C453.3 385.8 455.0 385.4 460.0 386.4C465.0 387.4 470.0 388.7 475.0 390.7C480.0 392.7 485.8 396.2 490.0 398.5C494.2 400.8 497.0 402.4 500.0 404.5C503.0 406.6 505.7 408.7 508.0 411.0C510.3 413.3 513.0 417.2 514.0 418.5" stroke="#cf9d46" stroke-width="7" fill="none" stroke-linejoin="round" stroke-linecap="round" opacity="1"/>
<path d="M372.0 394.0C373.3 393.8 373.7 393.0 380.0 392.8C386.3 392.6 399.2 392.6 410.0 392.7C420.8 392.8 436.7 393.2 445.0 393.5C453.3 393.8 455.0 393.8 460.0 394.5C465.0 395.2 470.0 396.2 475.0 398.0C480.0 399.8 485.8 403.2 490.0 405.5C494.2 407.8 497.0 409.5 500.0 411.5C503.0 413.5 505.7 415.3 508.0 417.5C510.3 419.7 513.0 423.3 514.0 424.5" stroke="#7f5480" stroke-width="8" fill="none" stroke-linejoin="round" stroke-linecap="round" opacity="1"/>
<circle cx="359.0" cy="349.9" r="3.1" fill="none" stroke="#ee7126" stroke-width="1.7"/>
<circle cx="362.0" cy="353.1" r="3.1" fill="none" stroke="#ee7126" stroke-width="1.7"/>
<circle cx="366.0" cy="356.8" r="3.1" fill="none" stroke="#ee7126" stroke-width="1.7"/>
<path d="M358.4 350.7L364.5 354.2L358.4 357.7Z" fill="none" stroke="#44709a" stroke-width="1.5" stroke-linejoin="miter"/>
<path d="M362.4 352.4L368.5 355.9L362.4 359.4Z" fill="none" stroke="#44709a" stroke-width="1.5" stroke-linejoin="miter"/>
<path d="M366.4 351.8L372.5 355.3L366.4 358.8Z" fill="none" stroke="#44709a" stroke-width="1.5" stroke-linejoin="miter"/>
<path d="M362.2 391.7L354.8 395.9L362.2 400.2Z" fill="none" stroke="#7f5480" stroke-width="1.7" stroke-linejoin="miter"/>
<path d="M365.2 391.7L357.8 396.0L365.2 400.2Z" fill="none" stroke="#7f5480" stroke-width="1.7" stroke-linejoin="miter"/>
<path d="M368.7 391.2L361.2 395.5L368.7 399.7Z" fill="none" stroke="#7f5480" stroke-width="1.7" stroke-linejoin="miter"/>
<path d="M372.2 389.2L364.8 393.4L372.2 397.7Z" fill="none" stroke="#7f5480" stroke-width="1.7" stroke-linejoin="miter"/>
<path d="M376.2 388.3L368.8 392.5L376.2 396.8Z" fill="none" stroke="#7f5480" stroke-width="1.7" stroke-linejoin="miter"/>
<path d="M355.0 377.5L363.0 385.5M363.0 377.5L355.0 385.5" stroke="#cf9d46" stroke-width="1.6"/>
<path d="M358.5 377.9L366.5 385.9M366.5 377.9L358.5 385.9" stroke="#cf9d46" stroke-width="1.6"/>
<path d="M362.0 377.4L370.0 385.4M370.0 377.4L362.0 385.4" stroke="#cf9d46" stroke-width="1.6"/>
<path d="M358.0 357.6C361.7 357.7 371.3 357.8 380.0 358.0C388.7 358.2 399.2 357.9 410.0 358.9C420.8 359.9 436.7 362.2 445.0 364.0C453.3 365.8 455.0 367.6 460.0 369.4C465.0 371.2 470.0 372.2 475.0 375.0C480.0 377.8 485.3 382.1 490.0 386.0C494.7 389.9 499.3 394.7 503.0 398.5C506.7 402.3 509.5 405.9 512.0 409.0C514.5 412.1 517.0 415.7 518.0 417.0" stroke="#111" stroke-width="1.3" fill="none" stroke-linejoin="round" stroke-linecap="round"/>
<path d="M358.0 360.0C361.7 360.1 371.3 360.1 380.0 360.5C388.7 360.9 399.2 361.0 410.0 362.2C420.8 363.4 436.7 365.7 445.0 367.5C453.3 369.3 455.0 371.3 460.0 373.2C465.0 375.1 470.0 376.2 475.0 379.0C480.0 381.8 485.3 386.2 490.0 390.0C494.7 393.8 499.3 397.9 503.0 401.5C506.7 405.1 509.5 408.6 512.0 411.5C514.5 414.4 517.0 417.8 518.0 419.0" stroke="#111" stroke-width="1.3" fill="none" stroke-linejoin="round" stroke-linecap="round"/>
<path d="M358.0 381.2C361.7 381.2 371.3 381.1 380.0 381.0C388.7 380.9 399.2 380.2 410.0 380.7C420.8 381.2 436.7 382.9 445.0 384.0C453.3 385.1 455.0 386.1 460.0 387.3C465.0 388.6 470.0 389.6 475.0 391.5C480.0 393.4 485.3 396.2 490.0 399.0C494.7 401.8 499.3 405.2 503.0 408.0C506.7 410.8 509.5 413.3 512.0 415.5C514.5 417.7 517.0 420.1 518.0 421.0" stroke="#111" stroke-width="1.3" fill="none" stroke-linejoin="round" stroke-linecap="round"/>
<path d="M358.0 392.4C361.7 392.3 371.3 392.1 380.0 392.0C388.7 391.9 399.2 391.3 410.0 391.5C420.8 391.7 436.7 392.3 445.0 393.0C453.3 393.7 455.0 394.5 460.0 395.5C465.0 396.5 470.0 397.2 475.0 399.0C480.0 400.8 485.3 403.7 490.0 406.0C494.7 408.3 499.3 410.8 503.0 413.0C506.7 415.2 509.5 417.7 512.0 419.5C514.5 421.3 517.0 423.2 518.0 424.0" stroke="#111" stroke-width="1.3" fill="none" stroke-linejoin="round" stroke-linecap="round"/>
<path d="M510.0 414.5C511.0 414.8 513.3 417.6 515.0 419.5C516.7 421.4 518.2 423.6 520.0 426.0C521.8 428.4 523.9 431.5 525.5 434.0C527.1 436.5 528.1 438.5 529.5 441.0C530.9 443.5 532.5 446.0 534.0 449.0C535.5 452.0 538.1 457.2 538.5 459.0C538.9 460.8 537.5 461.2 536.5 460.0C535.5 458.8 534.1 454.7 532.5 452.0C530.9 449.3 528.7 446.5 527.0 444.0C525.3 441.5 524.1 439.3 522.5 437.0C520.9 434.7 519.1 432.2 517.5 430.0C515.9 427.8 514.4 425.5 513.0 423.5C511.6 421.5 509.5 419.5 509.0 418.0C508.5 416.5 509.0 414.2 510.0 414.5Z" fill="#151515"/>
<path d="M537.5 460.0C538.2 461.7 540.4 466.3 542.0 470.0C543.6 473.7 545.4 478.0 547.0 482.0C548.6 486.0 550.1 490.2 551.5 494.0C552.9 497.8 554.3 501.5 555.5 505.0C556.7 508.5 557.6 511.7 558.5 515.0C559.4 518.3 560.2 521.3 561.0 525.0C561.8 528.7 562.7 532.8 563.5 537.0C564.3 541.2 565.2 545.8 566.0 550.0C566.8 554.2 567.8 558.7 568.5 562.0C569.2 565.3 569.6 567.0 570.3 570.0C571.0 573.0 571.8 576.6 572.5 580.0C573.2 583.4 574.0 588.8 574.3 590.6" stroke="#111" stroke-width="2.8" fill="none" stroke-linejoin="round" stroke-linecap="round"/>
<path d="M574.3 590.6C574.8 592.5 576.2 599.9 577.4 602.0C578.6 604.1 580.2 603.5 581.6 603.0C583.0 602.5 584.3 599.9 585.7 598.9C587.1 597.9 588.5 596.8 589.9 596.8C591.3 596.8 592.6 597.5 594.0 598.9C595.4 600.3 596.6 603.0 598.2 605.1C599.8 607.2 601.7 609.9 603.4 611.3C605.1 612.7 606.7 613.0 608.6 613.4C610.5 613.8 611.8 613.4 615.0 613.9C618.2 614.4 624.1 615.9 628.1 616.4C632.1 616.9 637.2 616.7 639.0 616.7" stroke="#111" stroke-width="1.7" fill="none" stroke-linejoin="round" stroke-linecap="round"/>
<path d="M574.3 590.6C574.8 593.0 576.2 602.5 577.4 605.1C578.6 607.7 580.2 606.6 581.6 606.1C583.0 605.6 584.3 603.0 585.7 602.0C587.1 601.0 588.5 600.2 589.9 600.4C591.3 600.6 592.5 601.4 594.0 603.0C595.5 604.6 597.5 608.2 599.2 610.3C600.9 612.4 602.5 614.4 604.4 615.5C606.3 616.6 608.8 616.7 610.6 617.0C612.4 617.3 610.3 616.9 615.0 617.5C619.7 618.1 635.0 620.1 639.0 620.6" stroke="#111" stroke-width="1.7" fill="none" stroke-linejoin="round" stroke-linecap="round"/>
<path d="M574.3 592.0C574.8 594.7 576.3 605.2 577.4 608.2C578.5 611.2 579.2 610.6 580.6 610.3C582.0 609.9 584.2 607.0 585.7 606.1C587.2 605.2 588.5 604.4 589.9 604.6C591.3 604.8 592.5 605.4 594.0 607.2C595.5 609.0 597.5 613.1 599.2 615.5C600.9 617.9 602.5 620.3 604.4 621.7C606.3 623.1 608.8 623.4 610.6 623.8C612.4 624.2 612.1 623.9 615.0 624.3C617.9 624.7 624.1 625.9 628.1 626.4C632.1 626.9 637.2 627.1 639.0 627.2" stroke="#111" stroke-width="1.7" fill="none" stroke-linejoin="round" stroke-linecap="round"/>
</g>
<path d="M363.7 656v-3.5M378.3 656v-3.5M389.6 656v-3.5M398.9 656v-3.5M406.7 656v-3.5M413.5 656v-3.5M419.5 656v-3.5M424.8 656v-6M460.0 656v-3.5M480.5 656v-3.5M495.1 656v-3.5M506.4 656v-3.5M515.7 656v-3.5M523.5 656v-3.5M530.3 656v-3.5M536.3 656v-3.5M541.6 656v-6M576.8 656v-3.5M597.3 656v-3.5M611.9 656v-3.5M623.2 656v-3.5M632.5 656v-3.5M356.3 652.8h3.5M356.3 646.0h3.5M356.3 640.2h3.5M356.3 635.0h3.5M356.3 630.4h6M356.3 600.0h3.5M356.3 582.3h3.5M356.3 569.7h3.5M356.3 559.9h3.5M356.3 551.9h3.5M356.3 545.1h3.5M356.3 539.3h3.5M356.3 534.1h3.5M356.3 529.5h6M356.3 499.1h3.5M356.3 481.4h3.5M356.3 468.8h3.5M356.3 459.0h3.5M356.3 451.0h3.5M356.3 444.2h3.5M356.3 438.4h3.5M356.3 433.2h3.5M356.3 428.6h6M356.3 398.2h3.5M356.3 380.5h3.5M356.3 367.9h3.5M356.3 358.1h3.5M356.3 350.1h3.5" stroke="#333" stroke-width="1.3" fill="none"/>
<rect x="356.3" y="346.3" width="282.2" height="309.7" stroke="#333" stroke-width="1.6" fill="none"/>
<text x="48.6" y="318.9" font-size="22" font-weight="bold" text-anchor="end" font-family="Liberation Sans, sans-serif">10</text>
<text x="48.2" y="305.0" font-size="14" font-weight="bold" font-family="Liberation Sans, sans-serif">3</text>
<text x="48.6" y="210.3" font-size="22" font-weight="bold" text-anchor="end" font-family="Liberation Sans, sans-serif">10</text>
<text x="48.2" y="196.4" font-size="14" font-weight="bold" font-family="Liberation Sans, sans-serif">4</text>
<text x="48.6" y="101.7" font-size="22" font-weight="bold" text-anchor="end" font-family="Liberation Sans, sans-serif">10</text>
<text x="48.2" y="87.8" font-size="14" font-weight="bold" font-family="Liberation Sans, sans-serif">5</text>
<text x="48.6" y="661.8" font-size="22" font-weight="bold" text-anchor="end" font-family="Liberation Sans, sans-serif">10</text>
<text x="48.2" y="647.9" font-size="14" font-weight="bold" font-family="Liberation Sans, sans-serif">3</text>
<text x="48.6" y="560.1" font-size="22" font-weight="bold" text-anchor="end" font-family="Liberation Sans, sans-serif">10</text>
<text x="48.2" y="546.2" font-size="14" font-weight="bold" font-family="Liberation Sans, sans-serif">4</text>
<text x="48.6" y="458.4" font-size="22" font-weight="bold" text-anchor="end" font-family="Liberation Sans, sans-serif">10</text>
<text x="48.2" y="444.5" font-size="14" font-weight="bold" font-family="Liberation Sans, sans-serif">5</text>
<text x="48.6" y="356.7" font-size="22" font-weight="bold" text-anchor="end" font-family="Liberation Sans, sans-serif">10</text>
<text x="48.2" y="342.8" font-size="14" font-weight="bold" font-family="Liberation Sans, sans-serif">6</text>
<text x="87.8" y="672.1" font-size="14" font-weight="bold" text-anchor="middle" font-family="Liberation Sans, sans-serif">4</text>
<text x="108.3" y="672.1" font-size="14" font-weight="bold" text-anchor="middle" font-family="Liberation Sans, sans-serif">6</text>
<text x="169.3" y="672.1" font-size="14" font-weight="bold" text-anchor="middle" font-family="Liberation Sans, sans-serif">2</text>
<text x="204.4" y="672.1" font-size="14" font-weight="bold" text-anchor="middle" font-family="Liberation Sans, sans-serif">4</text>
<text x="224.9" y="672.1" font-size="14" font-weight="bold" text-anchor="middle" font-family="Liberation Sans, sans-serif">6</text>
<text x="285.9" y="672.1" font-size="14" font-weight="bold" text-anchor="middle" font-family="Liberation Sans, sans-serif">2</text>
<text x="321.0" y="672.1" font-size="14" font-weight="bold" text-anchor="middle" font-family="Liberation Sans, sans-serif">4</text>
<text x="341.5" y="672.1" font-size="14" font-weight="bold" text-anchor="middle" font-family="Liberation Sans, sans-serif">6</text>
<text x="133.7" y="690.7" font-size="20.5" font-weight="bold" text-anchor="middle" font-family="Liberation Sans, sans-serif">0.01</text>
<text x="250.3" y="690.7" font-size="20.5" font-weight="bold" text-anchor="middle" font-family="Liberation Sans, sans-serif">0.1</text>
<text x="175.2" y="717.5" font-size="24.5" font-weight="bold" font-family="Liberation Sans, sans-serif">q</text>
<text x="195.2" y="717.5" font-size="24.5" font-weight="bold" font-family="Liberation Sans, sans-serif">(</text>
<text x="204.6" y="717.5" font-size="24.5" font-weight="bold" font-family="Liberation Sans, sans-serif">Å</text>
<text x="222.6" y="703.5" font-size="13.5" font-weight="bold" font-family="Liberation Sans, sans-serif">-1</text>
<text x="236.4" y="717.5" font-size="24.5" font-weight="bold" font-family="Liberation Sans, sans-serif">)</text>
<text x="378.3" y="672.1" font-size="14" font-weight="bold" text-anchor="middle" font-family="Liberation Sans, sans-serif">4</text>
<text x="398.9" y="672.1" font-size="14" font-weight="bold" text-anchor="middle" font-family="Liberation Sans, sans-serif">6</text>
<text x="460.0" y="672.1" font-size="14" font-weight="bold" text-anchor="middle" font-family="Liberation Sans, sans-serif">2</text>
<text x="495.1" y="672.1" font-size="14" font-weight="bold" text-anchor="middle" font-family="Liberation Sans, sans-serif">4</text>
<text x="515.7" y="672.1" font-size="14" font-weight="bold" text-anchor="middle" font-family="Liberation Sans, sans-serif">6</text>
<text x="576.8" y="672.1" font-size="14" font-weight="bold" text-anchor="middle" font-family="Liberation Sans, sans-serif">2</text>
<text x="611.9" y="672.1" font-size="14" font-weight="bold" text-anchor="middle" font-family="Liberation Sans, sans-serif">4</text>
<text x="632.5" y="672.1" font-size="14" font-weight="bold" text-anchor="middle" font-family="Liberation Sans, sans-serif">6</text>
<text x="424.3" y="690.7" font-size="20.5" font-weight="bold" text-anchor="middle" font-family="Liberation Sans, sans-serif">0.01</text>
<text x="541.1" y="690.7" font-size="20.5" font-weight="bold" text-anchor="middle" font-family="Liberation Sans, sans-serif">0.1</text>
<text x="462.6" y="716.7" font-size="24.5" font-weight="bold" font-family="Liberation Sans, sans-serif">q</text>
<text x="482.6" y="716.7" font-size="24.5" font-weight="bold" font-family="Liberation Sans, sans-serif">(</text>
<text x="492.0" y="716.7" font-size="24.5" font-weight="bold" font-family="Liberation Sans, sans-serif">Å</text>
<text x="510.0" y="702.7" font-size="13.5" font-weight="bold" font-family="Liberation Sans, sans-serif">-1</text>
<text x="523.8" y="716.7" font-size="24.5" font-weight="bold" font-family="Liberation Sans, sans-serif">)</text>
<text transform="translate(18.7,155.4) rotate(-90)" font-size="24" font-weight="bold" text-anchor="middle" font-family="Liberation Sans, sans-serif">Intensity (a.u.)</text>
<text transform="translate(18.7,497.1) rotate(-90)" font-size="24" font-weight="bold" text-anchor="middle" font-family="Liberation Sans, sans-serif">Intensity (a.u.)</text>
<text x="344" y="29.8" font-size="40" font-weight="bold" text-anchor="end" font-family="Liberation Sans, sans-serif">a</text>
<text x="343.6" y="377.8" font-size="40" font-weight="bold" text-anchor="end" font-family="Liberation Sans, sans-serif">b</text>
<text x="634" y="29.8" font-size="40" font-weight="bold" text-anchor="end" font-family="Liberation Sans, sans-serif">c</text>
<text x="638" y="378.8" font-size="40" font-weight="bold" text-anchor="end" font-family="Liberation Sans, sans-serif">d</text>
<rect x="68.2" y="195.7" width="182.5" height="111.69999999999999" fill="#fff" stroke="#222" stroke-width="1.4"/>
<path d="M76.0 200.3L86.6 206.6L76.0 212.9Z" fill="none" stroke="#5377a0" stroke-width="2.3" stroke-linejoin="miter"/>
<text x="145.3" y="211.8" font-size="16.7" font-weight="bold" text-anchor="end" font-family="Liberation Sans, sans-serif">0 mM</text>
<circle cx="80.0" cy="225.0" r="5.2" fill="none" stroke="#ee7126" stroke-width="2.6"/>
<text x="145.3" y="230.2" font-size="16.7" font-weight="bold" text-anchor="end" font-family="Liberation Sans, sans-serif">1 mM</text>
<path d="M76.0 239.2L84.6 247.8M84.6 239.2L76.0 247.8" stroke="#cf9d46" stroke-width="2.3"/>
<text x="145.3" y="248.7" font-size="16.7" font-weight="bold" text-anchor="end" font-family="Liberation Sans, sans-serif">2 mM</text>
<path d="M84.4 255.9L73.8 262.2L84.4 268.5Z" fill="none" stroke="#7f5480" stroke-width="2.3" stroke-linejoin="miter"/>
<text x="145.3" y="267.4" font-size="16.7" font-weight="bold" text-anchor="end" font-family="Liberation Sans, sans-serif">3 mM</text>
<path d="M74.9 280.9H85.7M80.3 275.5V286.3M76.4 277.0L84.2 284.8M84.2 277.0L76.4 284.8" stroke="#65806a" stroke-width="2.5"/>
<text x="145.3" y="286.1" font-size="16.7" font-weight="bold" text-anchor="end" font-family="Liberation Sans, sans-serif">4 mM</text>
<rect x="74.9" y="294.2" width="10.2" height="10.2" fill="none" stroke="#835a4b" stroke-width="2.3"/>
<text x="145.3" y="304.5" font-size="16.7" font-weight="bold" text-anchor="end" font-family="Liberation Sans, sans-serif">5 mM</text>
<path d="M173.8 199.5L180.9 206.6L173.8 213.7L166.7 206.6Z" fill="none" stroke="#7cb82e" stroke-width="2.3"/>
<text x="248.3" y="211.8" font-size="16.7" font-weight="bold" text-anchor="end" font-family="Liberation Sans, sans-serif">6 mM</text>
<path d="M168.2 225.0H178.8M173.5 219.7V230.3" stroke="#18a0dc" stroke-width="2.8"/>
<text x="248.3" y="230.2" font-size="16.7" font-weight="bold" text-anchor="end" font-family="Liberation Sans, sans-serif">8 mM</text>
<path d="M168.0 246.9L173.6 237.9L179.2 246.9Z" fill="none" stroke="#8a8a8a" stroke-width="2.3" stroke-linejoin="miter"/>
<text x="248.3" y="248.7" font-size="16.7" font-weight="bold" text-anchor="end" font-family="Liberation Sans, sans-serif">10 mM</text>
<path d="M173.7 254.2Q175.3 261.9 181.0 266.1Q173.7 262.1 166.4 266.1Q172.1 261.9 173.7 254.2Z" fill="#c8402e"/>
<text x="248.3" y="267.4" font-size="16.7" font-weight="bold" text-anchor="end" font-family="Liberation Sans, sans-serif">12 mM</text>
<path d="M171.6 276.8V285.2M176.2 276.8V285.2M169.7 278.7H178.1M169.7 283.3H178.1" stroke="#86594d" stroke-width="2.5" stroke-linecap="round"/>
<text x="248.3" y="286.1" font-size="16.7" font-weight="bold" text-anchor="end" font-family="Liberation Sans, sans-serif">15 mM</text>
<rect x="361.4" y="212" width="192.30000000000007" height="94.69999999999999" fill="#fff" stroke="#222" stroke-width="1.4"/>
<path d="M377.2 216.3L387.8 222.6L377.2 228.9Z" fill="none" stroke="#5377a0" stroke-width="2.3" stroke-linejoin="miter"/>
<text x="447.2" y="227.8" font-size="16.7" font-weight="bold" text-anchor="end" font-family="Liberation Sans, sans-serif">0 mM</text>
<circle cx="381.8" cy="241.1" r="5.2" fill="none" stroke="#ee7126" stroke-width="2.6"/>
<text x="447.2" y="246.3" font-size="16.7" font-weight="bold" text-anchor="end" font-family="Liberation Sans, sans-serif">1 mM</text>
<path d="M377.1 255.3L385.7 263.9M385.7 255.3L377.1 263.9" stroke="#cf9d46" stroke-width="2.3"/>
<text x="447.2" y="264.8" font-size="16.7" font-weight="bold" text-anchor="end" font-family="Liberation Sans, sans-serif">2 mM</text>
<path d="M385.7 272.0L375.1 278.3L385.7 284.6Z" fill="none" stroke="#7f5480" stroke-width="2.3" stroke-linejoin="miter"/>
<text x="447.2" y="283.4" font-size="16.7" font-weight="bold" text-anchor="end" font-family="Liberation Sans, sans-serif">3 mM</text>
<path d="M376.0 296.6H386.8M381.4 291.2V302.0M377.5 292.7L385.3 300.5M385.3 292.7L377.5 300.5" stroke="#65806a" stroke-width="2.5"/>
<text x="447.2" y="301.9" font-size="16.7" font-weight="bold" text-anchor="end" font-family="Liberation Sans, sans-serif">4 mM</text>
<rect x="470.8" y="217.2" width="10.2" height="10.2" fill="none" stroke="#835a4b" stroke-width="2.3"/>
<text x="549.6" y="227.8" font-size="16.7" font-weight="bold" text-anchor="end" font-family="Liberation Sans, sans-serif">5 mM</text>
<path d="M475.5 234.2L482.6 241.3L475.5 248.4L468.4 241.3Z" fill="none" stroke="#7cb82e" stroke-width="2.3"/>
<text x="549.6" y="246.3" font-size="16.7" font-weight="bold" text-anchor="end" font-family="Liberation Sans, sans-serif">6 mM</text>
<path d="M470.7 259.3H481.3M476.0 254.0V264.6" stroke="#18a0dc" stroke-width="2.8"/>
<text x="549.6" y="264.8" font-size="16.7" font-weight="bold" text-anchor="end" font-family="Liberation Sans, sans-serif">8 mM</text>
<path d="M470.1 281.6L475.7 272.6L481.3 281.6Z" fill="none" stroke="#8a8a8a" stroke-width="2.3" stroke-linejoin="miter"/>
<text x="549.6" y="283.4" font-size="16.7" font-weight="bold" text-anchor="end" font-family="Liberation Sans, sans-serif">10 mM</text>
<path d="M476.0 289.6Q477.6 297.3 483.3 301.5Q476.0 297.5 468.7 301.5Q474.4 297.3 476.0 289.6Z" fill="#c8402e"/>
<text x="549.6" y="301.9" font-size="16.7" font-weight="bold" text-anchor="end" font-family="Liberation Sans, sans-serif">12 mM</text>
<rect x="70.2" y="592.7" width="90.3" height="58.0" fill="#fff" stroke="#222" stroke-width="1.4"/>
<path d="M85.6 597.9L96.2 604.2L85.6 610.5Z" fill="none" stroke="#5377a0" stroke-width="2.3" stroke-linejoin="miter"/>
<text x="158.4" y="609.4" font-size="16.7" font-weight="bold" text-anchor="end" font-family="Liberation Sans, sans-serif">20mM</text>
<circle cx="90.1" cy="622.8" r="5.2" fill="none" stroke="#ee7126" stroke-width="2.6"/>
<text x="158.4" y="628.0" font-size="16.7" font-weight="bold" text-anchor="end" font-family="Liberation Sans, sans-serif">30mM</text>
<path d="M85.9 637.1L94.5 645.7M94.5 637.1L85.9 645.7" stroke="#cf9d46" stroke-width="2.3"/>
<text x="158.4" y="646.6" font-size="16.7" font-weight="bold" text-anchor="end" font-family="Liberation Sans, sans-serif">50mM</text>
<rect x="362.4" y="574.2" width="85.60000000000002" height="74.89999999999998" fill="#fff" stroke="#222" stroke-width="1.4"/>
<path d="M377.6 578.7L388.2 585.0L377.6 591.3Z" fill="none" stroke="#44709a" stroke-width="2.3" stroke-linejoin="miter"/>
<text x="446.5" y="590.2" font-size="16.7" font-weight="bold" text-anchor="end" font-family="Liberation Sans, sans-serif">15mM</text>
<circle cx="382.0" cy="603.0" r="5.2" fill="none" stroke="#ee7126" stroke-width="2.6"/>
<text x="446.5" y="608.2" font-size="16.7" font-weight="bold" text-anchor="end" font-family="Liberation Sans, sans-serif">20mM</text>
<path d="M377.4 617.1L386.0 625.7M386.0 617.1L377.4 625.7" stroke="#cf9d46" stroke-width="2.3"/>
<text x="446.5" y="626.6" font-size="16.7" font-weight="bold" text-anchor="end" font-family="Liberation Sans, sans-serif">30mM</text>
<path d="M386.3 633.0L375.7 639.3L386.3 645.6Z" fill="none" stroke="#7f5480" stroke-width="2.3" stroke-linejoin="miter"/>
<text x="446.5" y="644.5" font-size="16.7" font-weight="bold" text-anchor="end" font-family="Liberation Sans, sans-serif">50mM</text>
</svg></body></html>
